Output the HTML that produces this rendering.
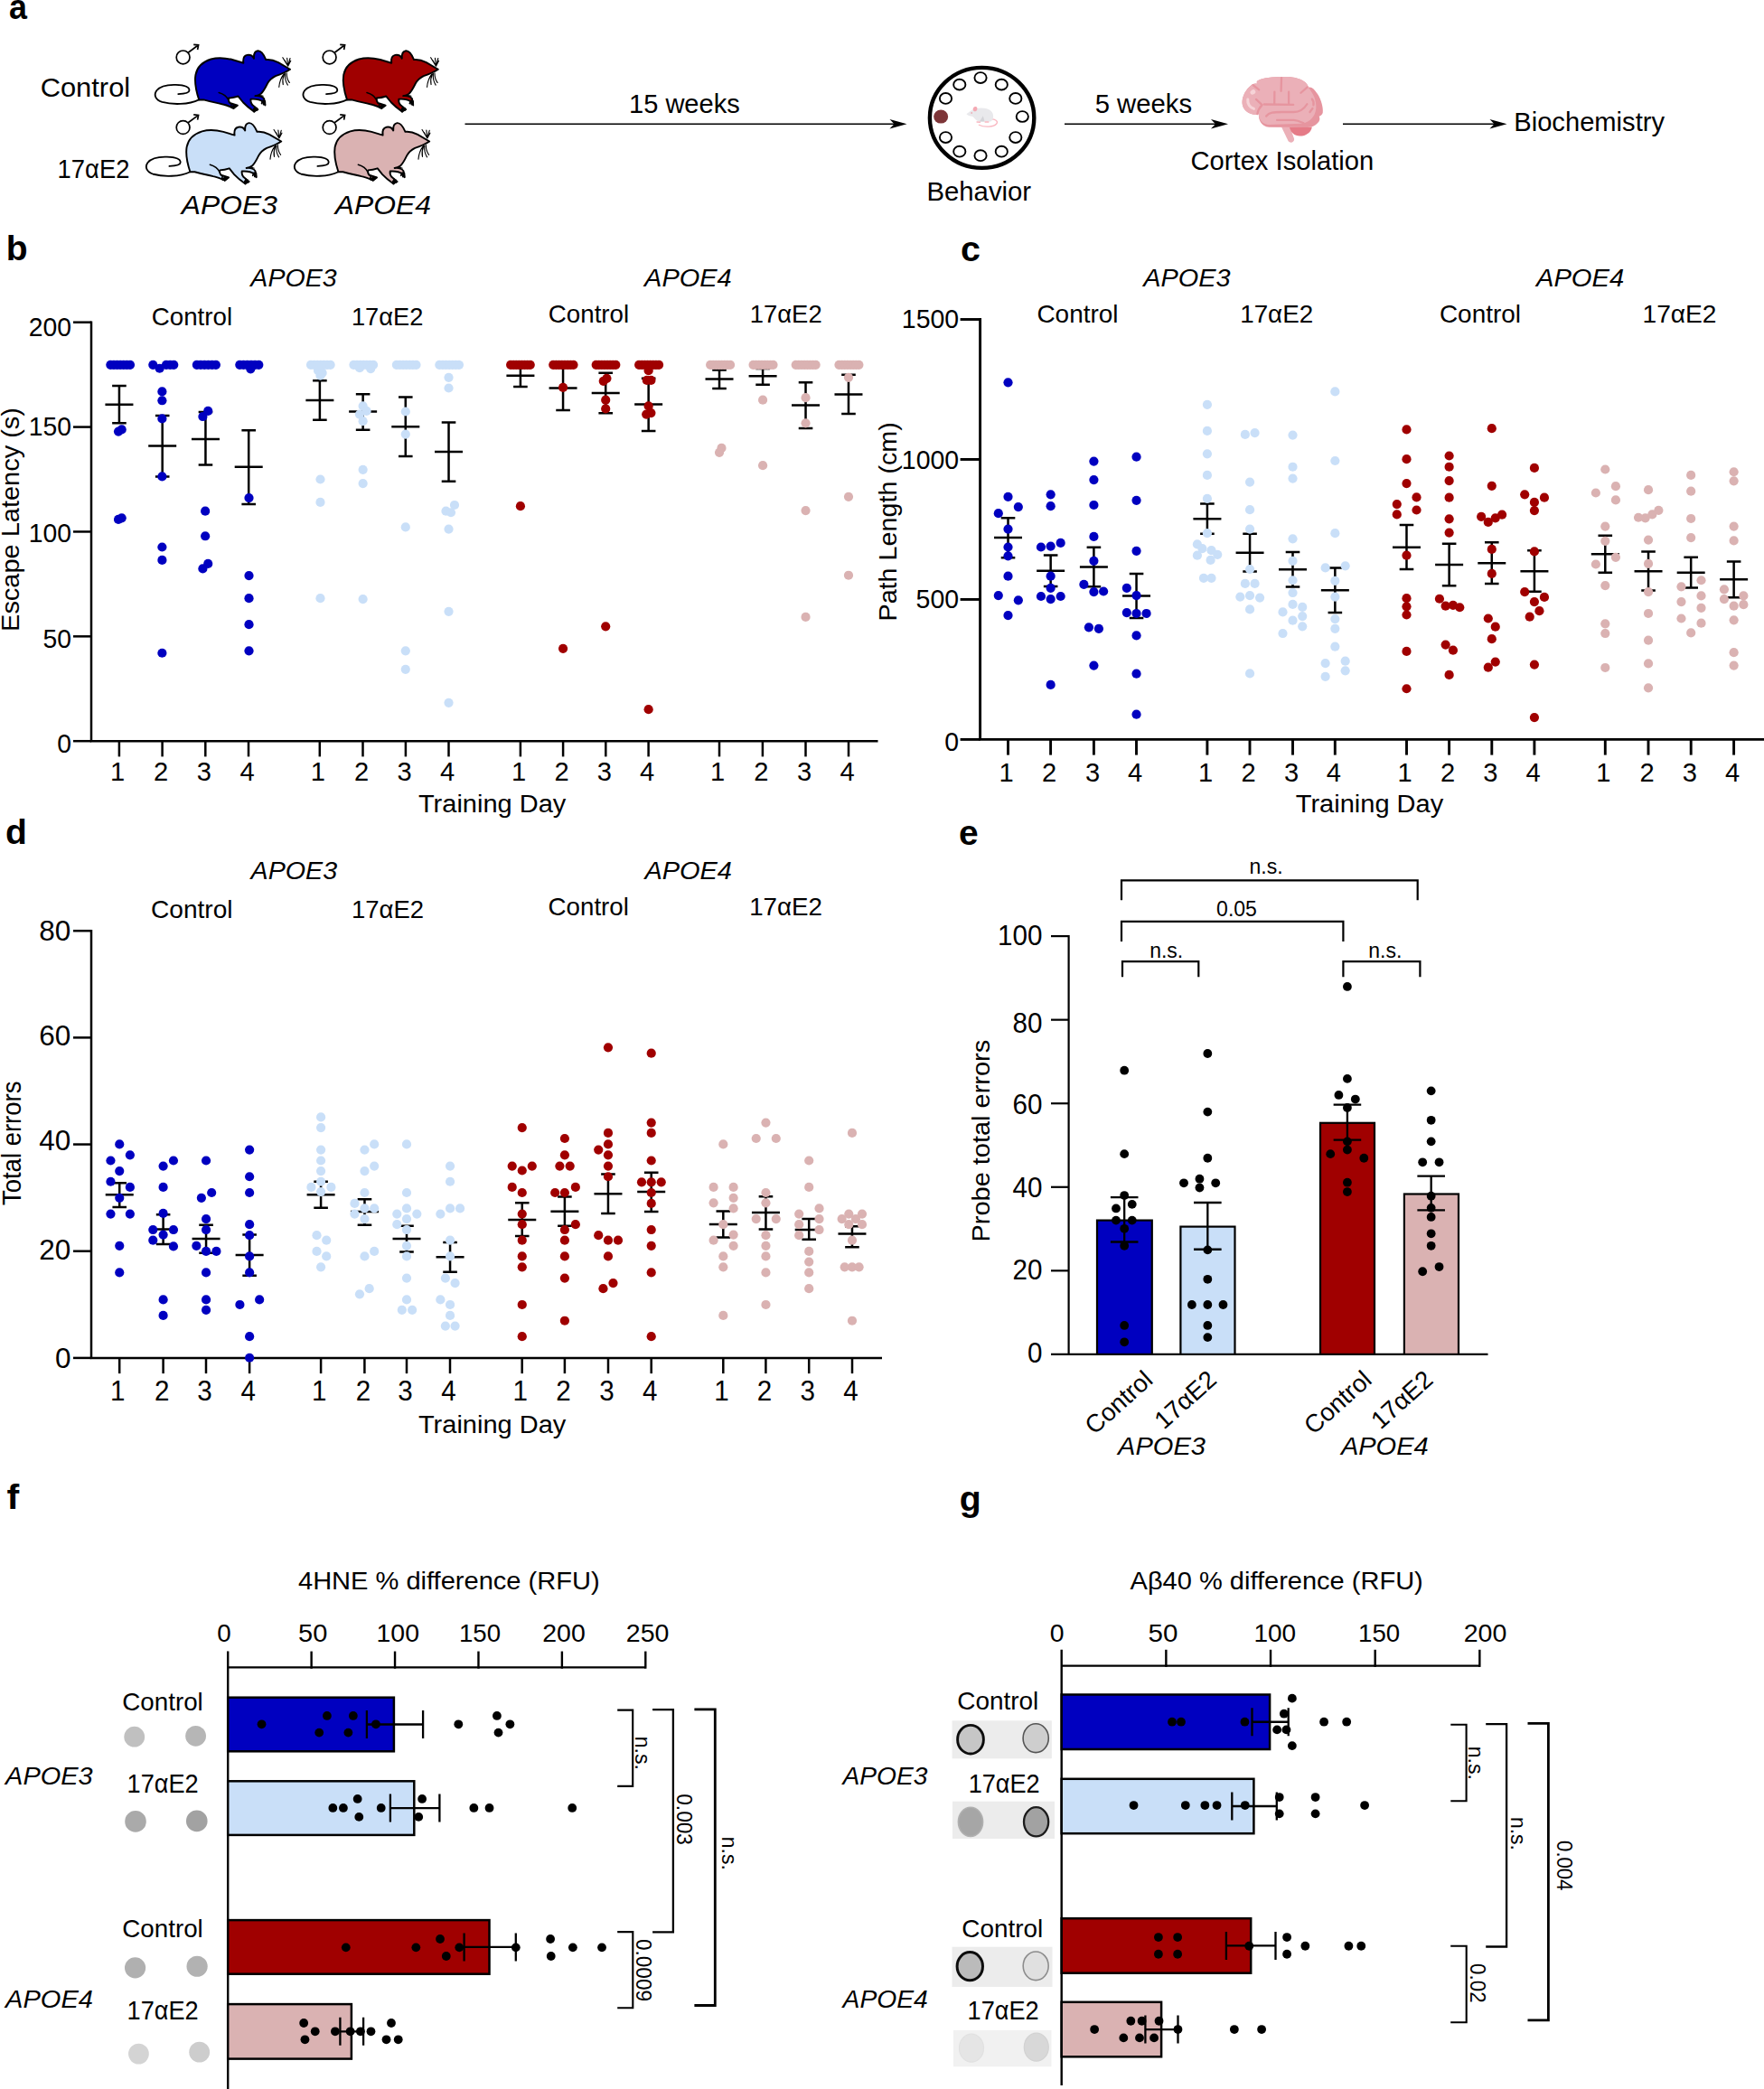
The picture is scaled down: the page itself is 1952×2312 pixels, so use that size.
<!DOCTYPE html>
<html lang="en"><head><meta charset="utf-8"><title>Figure</title>
<style>
html,body{margin:0;padding:0;background:#fff;}
svg{display:block;font-family:'Liberation Sans', Arial, sans-serif;}
</style></head><body>
<svg width="1952" height="2312" viewBox="0 0 1952 2312">
<rect width="1952" height="2312" fill="#fff"/>
<text x="10.02" y="20.8" font-size="39" font-weight="bold" textLength="19.94" lengthAdjust="spacingAndGlyphs">a</text>
<text x="44.66" y="107.1" font-size="29.5" textLength="99.51" lengthAdjust="spacingAndGlyphs">Control</text>
<text x="63.6" y="196.7" font-size="29.4" textLength="79.78" lengthAdjust="spacingAndGlyphs">17αE2</text>
<text x="200.83" y="236.9" font-size="29" font-style="italic" textLength="105.99" lengthAdjust="spacingAndGlyphs">APOE3</text>
<text x="370.83" y="236.9" font-size="29" font-style="italic" textLength="106.14" lengthAdjust="spacingAndGlyphs">APOE4</text>
<g transform="translate(160,40) scale(0.10204)" color="#0000c0">
<path d="M590,690 C480,745 300,745 190,715 C120,690 95,640 130,590 C170,540 260,525 340,528 C430,530 485,550 485,588 C485,615 420,626 365,628" fill="none" stroke="#000" stroke-width="18" stroke-linecap="round"/>
<path d="M590,690 C560,600 540,500 553,420 C570,330 640,275 720,250 C800,228 870,235 950,255 L1072,292 C1065,245 1080,212 1112,205 C1150,198 1172,215 1186,242 C1182,195 1195,165 1228,160 C1262,157 1290,195 1316,255 C1360,250 1405,262 1450,285 L1578,360 C1530,392 1470,415 1420,432 C1375,455 1350,480 1332,515 C1310,560 1290,600 1262,625 C1240,640 1222,645 1200,648 C1240,645 1280,655 1296,680 L1306,745 L1282,712 C1250,685 1200,680 1152,683 C1148,705 1155,730 1168,745 L1228,795 L1186,818 C1140,785 1100,752 1068,718 L1015,652 C985,662 945,670 912,672 C908,692 913,712 925,725 L1008,752 L965,782 C925,765 885,745 840,738 C780,725 700,705 640,690 Z" fill="currentColor" stroke="#000" stroke-width="19" stroke-linejoin="round"/>
<path d="M805,612 C850,625 890,650 908,690" fill="none" stroke="#000" stroke-width="15" stroke-linecap="round"/>
<path d="M1200,648 C1230,640 1262,640 1285,650" fill="none" stroke="#000" stroke-width="10" stroke-linecap="round"/>
<path d="M1282,700 L1270,730 M1296,700 L1290,742 M1306,705 L1308,750 M1196,770 L1180,800 M1215,780 L1190,822 M1228,795 L1215,805 M975,745 L950,770 M1000,752 L965,785 M940,740 L935,765" fill="none" stroke="#000" stroke-width="17" stroke-linecap="round"/>
<path d="M1555,325 L1498,232 M1555,325 L1520,262 M1555,325 L1545,238 M1555,325 L1578,240 M1555,325 L1585,268 M1510,410 C1480,450 1462,500 1458,552 M1515,410 C1498,450 1495,490 1502,525 M1525,405 C1520,450 1530,495 1552,530 M1540,400 C1540,440 1552,480 1572,505" fill="none" stroke="#000" stroke-width="11" stroke-linecap="round"/>
<ellipse cx="962" cy="765" rx="30" ry="17" transform="rotate(-25 962 765)" fill="#000"/><ellipse cx="1196" cy="796" rx="28" ry="16" transform="rotate(-32 1196 796)" fill="#000"/><ellipse cx="1293" cy="722" rx="15" ry="26" transform="rotate(-8 1293 722)" fill="#000"/>
</g>
<g transform="translate(323.8,40) scale(0.10204)" color="#a00000">
<path d="M590,690 C480,745 300,745 190,715 C120,690 95,640 130,590 C170,540 260,525 340,528 C430,530 485,550 485,588 C485,615 420,626 365,628" fill="none" stroke="#000" stroke-width="18" stroke-linecap="round"/>
<path d="M590,690 C560,600 540,500 553,420 C570,330 640,275 720,250 C800,228 870,235 950,255 L1072,292 C1065,245 1080,212 1112,205 C1150,198 1172,215 1186,242 C1182,195 1195,165 1228,160 C1262,157 1290,195 1316,255 C1360,250 1405,262 1450,285 L1578,360 C1530,392 1470,415 1420,432 C1375,455 1350,480 1332,515 C1310,560 1290,600 1262,625 C1240,640 1222,645 1200,648 C1240,645 1280,655 1296,680 L1306,745 L1282,712 C1250,685 1200,680 1152,683 C1148,705 1155,730 1168,745 L1228,795 L1186,818 C1140,785 1100,752 1068,718 L1015,652 C985,662 945,670 912,672 C908,692 913,712 925,725 L1008,752 L965,782 C925,765 885,745 840,738 C780,725 700,705 640,690 Z" fill="currentColor" stroke="#000" stroke-width="19" stroke-linejoin="round"/>
<path d="M805,612 C850,625 890,650 908,690" fill="none" stroke="#000" stroke-width="15" stroke-linecap="round"/>
<path d="M1200,648 C1230,640 1262,640 1285,650" fill="none" stroke="#000" stroke-width="10" stroke-linecap="round"/>
<path d="M1282,700 L1270,730 M1296,700 L1290,742 M1306,705 L1308,750 M1196,770 L1180,800 M1215,780 L1190,822 M1228,795 L1215,805 M975,745 L950,770 M1000,752 L965,785 M940,740 L935,765" fill="none" stroke="#000" stroke-width="17" stroke-linecap="round"/>
<path d="M1555,325 L1498,232 M1555,325 L1520,262 M1555,325 L1545,238 M1555,325 L1578,240 M1555,325 L1585,268 M1510,410 C1480,450 1462,500 1458,552 M1515,410 C1498,450 1495,490 1502,525 M1525,405 C1520,450 1530,495 1552,530 M1540,400 C1540,440 1552,480 1572,505" fill="none" stroke="#000" stroke-width="11" stroke-linecap="round"/>
<ellipse cx="962" cy="765" rx="30" ry="17" transform="rotate(-25 962 765)" fill="#000"/><ellipse cx="1196" cy="796" rx="28" ry="16" transform="rotate(-32 1196 796)" fill="#000"/><ellipse cx="1293" cy="722" rx="15" ry="26" transform="rotate(-8 1293 722)" fill="#000"/>
</g>
<g transform="translate(150.2,119.8) scale(0.10204)" color="#c9dff8">
<path d="M590,690 C480,745 300,745 190,715 C120,690 95,640 130,590 C170,540 260,525 340,528 C430,530 485,550 485,588 C485,615 420,626 365,628" fill="none" stroke="#000" stroke-width="18" stroke-linecap="round"/>
<path d="M590,690 C560,600 540,500 553,420 C570,330 640,275 720,250 C800,228 870,235 950,255 L1072,292 C1065,245 1080,212 1112,205 C1150,198 1172,215 1186,242 C1182,195 1195,165 1228,160 C1262,157 1290,195 1316,255 C1360,250 1405,262 1450,285 L1578,360 C1530,392 1470,415 1420,432 C1375,455 1350,480 1332,515 C1310,560 1290,600 1262,625 C1240,640 1222,645 1200,648 C1240,645 1280,655 1296,680 L1306,745 L1282,712 C1250,685 1200,680 1152,683 C1148,705 1155,730 1168,745 L1228,795 L1186,818 C1140,785 1100,752 1068,718 L1015,652 C985,662 945,670 912,672 C908,692 913,712 925,725 L1008,752 L965,782 C925,765 885,745 840,738 C780,725 700,705 640,690 Z" fill="currentColor" stroke="#000" stroke-width="19" stroke-linejoin="round"/>
<path d="M805,612 C850,625 890,650 908,690" fill="none" stroke="#000" stroke-width="15" stroke-linecap="round"/>
<path d="M1200,648 C1230,640 1262,640 1285,650" fill="none" stroke="#000" stroke-width="10" stroke-linecap="round"/>
<path d="M1282,700 L1270,730 M1296,700 L1290,742 M1306,705 L1308,750 M1196,770 L1180,800 M1215,780 L1190,822 M1228,795 L1215,805 M975,745 L950,770 M1000,752 L965,785 M940,740 L935,765" fill="none" stroke="#000" stroke-width="17" stroke-linecap="round"/>
<path d="M1555,325 L1498,232 M1555,325 L1520,262 M1555,325 L1545,238 M1555,325 L1578,240 M1555,325 L1585,268 M1510,410 C1480,450 1462,500 1458,552 M1515,410 C1498,450 1495,490 1502,525 M1525,405 C1520,450 1530,495 1552,530 M1540,400 C1540,440 1552,480 1572,505" fill="none" stroke="#000" stroke-width="11" stroke-linecap="round"/>
<ellipse cx="962" cy="765" rx="30" ry="17" transform="rotate(-25 962 765)" fill="#000"/><ellipse cx="1196" cy="796" rx="28" ry="16" transform="rotate(-32 1196 796)" fill="#000"/><ellipse cx="1293" cy="722" rx="15" ry="26" transform="rotate(-8 1293 722)" fill="#000"/>
</g>
<g transform="translate(314.2,119.8) scale(0.10204)" color="#dab2b2">
<path d="M590,690 C480,745 300,745 190,715 C120,690 95,640 130,590 C170,540 260,525 340,528 C430,530 485,550 485,588 C485,615 420,626 365,628" fill="none" stroke="#000" stroke-width="18" stroke-linecap="round"/>
<path d="M590,690 C560,600 540,500 553,420 C570,330 640,275 720,250 C800,228 870,235 950,255 L1072,292 C1065,245 1080,212 1112,205 C1150,198 1172,215 1186,242 C1182,195 1195,165 1228,160 C1262,157 1290,195 1316,255 C1360,250 1405,262 1450,285 L1578,360 C1530,392 1470,415 1420,432 C1375,455 1350,480 1332,515 C1310,560 1290,600 1262,625 C1240,640 1222,645 1200,648 C1240,645 1280,655 1296,680 L1306,745 L1282,712 C1250,685 1200,680 1152,683 C1148,705 1155,730 1168,745 L1228,795 L1186,818 C1140,785 1100,752 1068,718 L1015,652 C985,662 945,670 912,672 C908,692 913,712 925,725 L1008,752 L965,782 C925,765 885,745 840,738 C780,725 700,705 640,690 Z" fill="currentColor" stroke="#000" stroke-width="19" stroke-linejoin="round"/>
<path d="M805,612 C850,625 890,650 908,690" fill="none" stroke="#000" stroke-width="15" stroke-linecap="round"/>
<path d="M1200,648 C1230,640 1262,640 1285,650" fill="none" stroke="#000" stroke-width="10" stroke-linecap="round"/>
<path d="M1282,700 L1270,730 M1296,700 L1290,742 M1306,705 L1308,750 M1196,770 L1180,800 M1215,780 L1190,822 M1228,795 L1215,805 M975,745 L950,770 M1000,752 L965,785 M940,740 L935,765" fill="none" stroke="#000" stroke-width="17" stroke-linecap="round"/>
<path d="M1555,325 L1498,232 M1555,325 L1520,262 M1555,325 L1545,238 M1555,325 L1578,240 M1555,325 L1585,268 M1510,410 C1480,450 1462,500 1458,552 M1515,410 C1498,450 1495,490 1502,525 M1525,405 C1520,450 1530,495 1552,530 M1540,400 C1540,440 1552,480 1572,505" fill="none" stroke="#000" stroke-width="11" stroke-linecap="round"/>
<ellipse cx="962" cy="765" rx="30" ry="17" transform="rotate(-25 962 765)" fill="#000"/><ellipse cx="1196" cy="796" rx="28" ry="16" transform="rotate(-32 1196 796)" fill="#000"/><ellipse cx="1293" cy="722" rx="15" ry="26" transform="rotate(-8 1293 722)" fill="#000"/>
</g>
<g fill="none" stroke="#000" stroke-width="1.7" transform="translate(0,0)"><circle cx="202.6" cy="63.4" r="7.4"/><path d="M208.2,58.2 L219.6,49.8 M214.2,49.3 L219.6,49.8 L218.6,55"/></g>
<g fill="none" stroke="#000" stroke-width="1.7" transform="translate(162,0)"><circle cx="202.6" cy="63.4" r="7.4"/><path d="M208.2,58.2 L219.6,49.8 M214.2,49.3 L219.6,49.8 L218.6,55"/></g>
<g fill="none" stroke="#000" stroke-width="1.7" transform="translate(0,77.6)"><circle cx="202.6" cy="63.4" r="7.4"/><path d="M208.2,58.2 L219.6,49.8 M214.2,49.3 L219.6,49.8 L218.6,55"/></g>
<g fill="none" stroke="#000" stroke-width="1.7" transform="translate(162,77.6)"><circle cx="202.6" cy="63.4" r="7.4"/><path d="M208.2,58.2 L219.6,49.8 M214.2,49.3 L219.6,49.8 L218.6,55"/></g>
<line x1="514.5" y1="137.2" x2="995.5" y2="137.2" stroke="#000" stroke-width="1.6"/>
<path d="M1003.5,137.2 L984.5,132 L989.5,137.2 L984.5,142.4 Z" fill="#000"/>
<line x1="1178" y1="137.2" x2="1351" y2="137.2" stroke="#000" stroke-width="1.6"/>
<path d="M1359,137.2 L1340,132 L1345,137.2 L1340,142.4 Z" fill="#000"/>
<line x1="1486" y1="137.2" x2="1659.5" y2="137.2" stroke="#000" stroke-width="1.6"/>
<path d="M1667.5,137.2 L1648.5,132 L1653.5,137.2 L1648.5,142.4 Z" fill="#000"/>
<text x="696.02" y="124.6" font-size="29.2" textLength="122.68" lengthAdjust="spacingAndGlyphs">15 weeks</text>
<text x="1211.63" y="124.6" font-size="29.2" textLength="107.4" lengthAdjust="spacingAndGlyphs">5 weeks</text>
<text x="1675.27" y="145.2" font-size="29.2" textLength="166.74" lengthAdjust="spacingAndGlyphs">Biochemistry</text>
<text x="1317.54" y="187.7" font-size="29.2" textLength="202.64" lengthAdjust="spacingAndGlyphs">Cortex Isolation</text>
<text x="1025.46" y="221.8" font-size="29.2" textLength="115.64" lengthAdjust="spacingAndGlyphs">Behavior</text>
<ellipse cx="1086.6" cy="130.4" rx="57.7" ry="55.5" fill="#fff" stroke="#000" stroke-width="4.4"/>
<ellipse cx="1085.03" cy="86.05" rx="6.6" ry="5.9" fill="#fff" stroke="#000" stroke-width="1.9"/>
<ellipse cx="1108.28" cy="93.65" rx="6.6" ry="5.9" fill="#fff" stroke="#000" stroke-width="1.9"/>
<ellipse cx="1123.81" cy="108.96" rx="6.6" ry="5.9" fill="#fff" stroke="#000" stroke-width="1.9"/>
<ellipse cx="1131.29" cy="129.02" rx="6.6" ry="5.9" fill="#fff" stroke="#000" stroke-width="1.9"/>
<ellipse cx="1123.81" cy="152.04" rx="6.6" ry="5.9" fill="#fff" stroke="#000" stroke-width="1.9"/>
<ellipse cx="1108.28" cy="167.69" rx="6.6" ry="5.9" fill="#fff" stroke="#000" stroke-width="1.9"/>
<ellipse cx="1085.03" cy="172.22" rx="6.6" ry="5.9" fill="#fff" stroke="#000" stroke-width="1.9"/>
<ellipse cx="1061.79" cy="167.69" rx="6.6" ry="5.9" fill="#fff" stroke="#000" stroke-width="1.9"/>
<ellipse cx="1046.49" cy="152.04" rx="6.6" ry="5.9" fill="#fff" stroke="#000" stroke-width="1.9"/>
<ellipse cx="1041.16" cy="129.02" rx="8" ry="7.6" fill="#7d3538"/>
<ellipse cx="1046.49" cy="108.96" rx="6.6" ry="5.9" fill="#fff" stroke="#000" stroke-width="1.9"/>
<ellipse cx="1061.79" cy="93.65" rx="6.6" ry="5.9" fill="#fff" stroke="#000" stroke-width="1.9"/>
<g transform="translate(1000,50) scale(0.11338)">
<path d="M735,778 C790,805 880,800 908,765 C925,740 890,722 855,722" fill="none" stroke="#f9b7c0" stroke-width="11" stroke-linecap="round"/>
<path d="M612,672 C640,650 665,632 700,622 C760,605 830,615 860,650 C885,685 875,730 850,745 L735,748 C700,735 690,705 668,695 C645,690 625,685 612,672 Z" fill="#e9e9ec"/>
<path d="M740,745 L775,690 L790,745 Z" fill="#d4d4d8"/>
<ellipse cx="697" cy="623" rx="20" ry="24" fill="#f4a9b3" transform="rotate(20 697 623)"/>
<circle cx="663" cy="662" r="7" fill="#ef8a98"/>
<path d="M715,750 L745,752 M795,750 L828,750" stroke="#f9b7c0" stroke-width="12" stroke-linecap="round"/>
</g>
<g transform="translate(1350,70) scale(0.085034)">
<path d="M800,830 L910,830 L966,985 C968,1030 915,1048 888,1012 Z" fill="#ebb0b8"/>
<path d="M905,832 L1198,828 C1185,900 1120,947 1040,947 C968,947 920,900 905,832 Z" fill="#e57b87"/>
<path d="M480,235 C520,200 620,178 790,176 L830,178 C960,175 1080,205 1130,270 C1145,290 1150,305 1150,315 C1190,300 1230,340 1270,400 C1320,480 1345,580 1338,640 C1335,665 1310,685 1290,690 C1305,720 1300,750 1270,780 C1240,815 1190,835 1140,835 L640,832 C590,830 540,800 520,750 C505,715 503,690 505,662 C470,672 410,668 365,640 C310,605 285,550 290,490 C295,420 340,340 400,290 C425,270 450,262 480,268 Z" fill="#e6959f"/>
<path d="M480,235 C520,200 620,178 790,176 L830,178 C960,175 1080,205 1130,270 C1145,290 1150,305 1150,318 C1210,390 1260,480 1250,590 C1240,690 1170,760 1080,785 L640,800 C590,798 545,775 525,735 C508,705 503,690 505,662 C470,672 410,668 365,640 C310,605 285,550 290,490 C295,420 340,340 400,290 C425,270 450,262 480,268 Z" fill="#ebb0b8"/>
<g fill="none" stroke="#e6959f" stroke-width="27" stroke-linecap="round">
<path d="M800,190 L795,362 M710,372 L708,525 M895,372 L895,528 M575,535 L955,540 M470,470 L548,542 M432,285 L508,345 M1135,312 L1052,385 M602,688 C640,640 700,635 800,635 L960,635 C1050,635 1100,585 1133,532 M742,740 L960,740 C1020,745 1060,768 1088,780 M1197,465 C1216,490 1222,520 1216,545 M1205,588 L1170,635 M548,542 C512,580 492,620 486,660"/>
</g>
<path d="M362,472 C355,530 392,580 440,592" fill="none" stroke="#f6d3d7" stroke-width="36" stroke-linecap="round"/>
<ellipse cx="428" cy="376" rx="36" ry="30" fill="#f6d3d7" transform="rotate(-35 428 376)"/>
</g>
<text x="6.66" y="287.8" font-size="39" font-weight="bold" textLength="23.83" lengthAdjust="spacingAndGlyphs">b</text>
<text x="277.38" y="316.6" font-size="28.2" font-style="italic" textLength="95.2" lengthAdjust="spacingAndGlyphs">APOE3</text>
<text x="713.1" y="316.6" font-size="28.2" font-style="italic" textLength="96.46" lengthAdjust="spacingAndGlyphs">APOE4</text>
<text x="167.71" y="359.6" font-size="28" textLength="89.39" lengthAdjust="spacingAndGlyphs">Control</text>
<text x="388.96" y="359.6" font-size="28" textLength="79.37" lengthAdjust="spacingAndGlyphs">17αE2</text>
<text x="606.81" y="356.6" font-size="28" textLength="89.39" lengthAdjust="spacingAndGlyphs">Control</text>
<text x="829.85" y="356.6" font-size="28" textLength="79.78" lengthAdjust="spacingAndGlyphs">17αE2</text>
<g stroke="#000" stroke-width="2.5" fill="none" stroke-linecap="butt">
<path d="M101,355.45 V820.2 H971.5"/>
<path d="M81,820.2 H101"/>
<path d="M81,356.7 H101"/>
<path d="M81,472.58 H101"/>
<path d="M81,588.45 H101"/>
<path d="M81,704.33 H101"/>
<path d="M131.9,820.2 V837.4"/>
<path d="M179.6,820.2 V837.4"/>
<path d="M227.3,820.2 V837.4"/>
<path d="M275,820.2 V837.4"/>
<path d="M353.8,820.2 V837.4"/>
<path d="M401.5,820.2 V837.4"/>
<path d="M448.9,820.2 V837.4"/>
<path d="M496.5,820.2 V837.4"/>
<path d="M575.9,820.2 V837.4"/>
<path d="M623.1,820.2 V837.4"/>
<path d="M670.3,820.2 V837.4"/>
<path d="M717.6,820.2 V837.4"/>
<path d="M796,820.2 V837.4"/>
<path d="M843.9,820.2 V837.4"/>
<path d="M891.5,820.2 V837.4"/>
<path d="M939,820.2 V837.4"/>
</g>
<text x="31.74" y="371.7" font-size="30" textLength="47.25" lengthAdjust="spacingAndGlyphs">200</text>
<text x="31.74" y="482.4" font-size="30" textLength="47.25" lengthAdjust="spacingAndGlyphs">150</text>
<text x="31.74" y="600" font-size="30" textLength="47.25" lengthAdjust="spacingAndGlyphs">100</text>
<text x="47.46" y="716.9" font-size="30" textLength="31.5" lengthAdjust="spacingAndGlyphs">50</text>
<text x="63.32" y="833.1" font-size="30" textLength="15.75" lengthAdjust="spacingAndGlyphs">0</text>
<text x="121.96" y="864" font-size="30" textLength="16.18" lengthAdjust="spacingAndGlyphs">1</text>
<text x="170.02" y="864" font-size="30" textLength="16.18" lengthAdjust="spacingAndGlyphs">2</text>
<text x="217.8" y="864" font-size="30" textLength="16.18" lengthAdjust="spacingAndGlyphs">3</text>
<text x="265.5" y="864" font-size="30" textLength="16.18" lengthAdjust="spacingAndGlyphs">4</text>
<text x="343.86" y="864" font-size="30" textLength="16.18" lengthAdjust="spacingAndGlyphs">1</text>
<text x="391.92" y="864" font-size="30" textLength="16.18" lengthAdjust="spacingAndGlyphs">2</text>
<text x="439.4" y="864" font-size="30" textLength="16.18" lengthAdjust="spacingAndGlyphs">3</text>
<text x="487" y="864" font-size="30" textLength="16.18" lengthAdjust="spacingAndGlyphs">4</text>
<text x="565.96" y="864" font-size="30" textLength="16.18" lengthAdjust="spacingAndGlyphs">1</text>
<text x="613.52" y="864" font-size="30" textLength="16.18" lengthAdjust="spacingAndGlyphs">2</text>
<text x="660.8" y="864" font-size="30" textLength="16.18" lengthAdjust="spacingAndGlyphs">3</text>
<text x="708.1" y="864" font-size="30" textLength="16.18" lengthAdjust="spacingAndGlyphs">4</text>
<text x="786.06" y="864" font-size="30" textLength="16.18" lengthAdjust="spacingAndGlyphs">1</text>
<text x="834.32" y="864" font-size="30" textLength="16.18" lengthAdjust="spacingAndGlyphs">2</text>
<text x="882" y="864" font-size="30" textLength="16.18" lengthAdjust="spacingAndGlyphs">3</text>
<text x="929.5" y="864" font-size="30" textLength="16.18" lengthAdjust="spacingAndGlyphs">4</text>
<text x="21.3" y="698.92" font-size="27.8" textLength="247.89" lengthAdjust="spacingAndGlyphs" transform="rotate(-90 21.3 698.92)">Escape Latency (s)</text>
<text x="462.97" y="898.9" font-size="28.4" textLength="163.32" lengthAdjust="spacingAndGlyphs">Training Day</text>
<g stroke="#000" stroke-width="2.5" fill="none">
<path d="M131.94,427.04 V468.37 M116.44,447.86 H147.44 M124.14,427.04 H139.74 M124.14,468.37 H139.74"/>
<path d="M179.69,460.1 V527.45 M164.19,493.47 H195.19 M171.89,460.1 H187.49 M171.89,527.45 H187.49"/>
<path d="M227.45,456.12 V514.59 M211.95,486.12 H242.95 M219.65,456.12 H235.25 M219.65,514.59 H235.25"/>
<path d="M275.2,476.33 V558.06 M259.7,516.73 H290.7 M267.4,476.33 H283 M267.4,558.06 H283"/>
</g>
<g fill="#0000c0">
<circle cx="122.34" cy="403.78" r="5.1" fill="#0000c0"/>
<circle cx="125.95" cy="403.78" r="5.1" fill="#0000c0"/>
<circle cx="129.56" cy="403.78" r="5.1" fill="#0000c0"/>
<circle cx="133.16" cy="403.78" r="5.1" fill="#0000c0"/>
<circle cx="136.77" cy="403.78" r="5.1" fill="#0000c0"/>
<circle cx="140.38" cy="403.78" r="5.1" fill="#0000c0"/>
<circle cx="143.98" cy="403.78" r="5.1" fill="#0000c0"/>
<circle cx="131.02" cy="477.55" r="5.1" fill="#0000c0"/>
<circle cx="134.69" cy="475.41" r="5.1" fill="#0000c0"/>
<circle cx="131.02" cy="574.9" r="5.1" fill="#0000c0"/>
<circle cx="134.69" cy="573.37" r="5.1" fill="#0000c0"/>
<circle cx="169.29" cy="403.78" r="5.1" fill="#0000c0"/>
<circle cx="176.63" cy="407.76" r="5.1" fill="#0000c0"/>
<circle cx="183.98" cy="403.78" r="5.1" fill="#0000c0"/>
<circle cx="188.27" cy="403.78" r="5.1" fill="#0000c0"/>
<circle cx="192.24" cy="403.78" r="5.1" fill="#0000c0"/>
<circle cx="179.39" cy="433.47" r="5.1" fill="#0000c0"/>
<circle cx="179.39" cy="443.27" r="5.1" fill="#0000c0"/>
<circle cx="179.39" cy="463.47" r="5.1" fill="#0000c0"/>
<circle cx="179.39" cy="527.45" r="5.1" fill="#0000c0"/>
<circle cx="179.39" cy="605.51" r="5.1" fill="#0000c0"/>
<circle cx="179.39" cy="619.9" r="5.1" fill="#0000c0"/>
<circle cx="179.39" cy="722.75" r="5.1" fill="#0000c0"/>
<circle cx="217.85" cy="403.78" r="5.1" fill="#0000c0"/>
<circle cx="222.06" cy="403.78" r="5.1" fill="#0000c0"/>
<circle cx="226.26" cy="403.78" r="5.1" fill="#0000c0"/>
<circle cx="230.47" cy="403.78" r="5.1" fill="#0000c0"/>
<circle cx="234.67" cy="403.78" r="5.1" fill="#0000c0"/>
<circle cx="238.88" cy="403.78" r="5.1" fill="#0000c0"/>
<circle cx="230.2" cy="454.9" r="5.1" fill="#0000c0"/>
<circle cx="224.39" cy="461.02" r="5.1" fill="#0000c0"/>
<circle cx="227.14" cy="565.71" r="5.1" fill="#0000c0"/>
<circle cx="227.14" cy="593.27" r="5.1" fill="#0000c0"/>
<circle cx="230.2" cy="623.88" r="5.1" fill="#0000c0"/>
<circle cx="224.39" cy="629.39" r="5.1" fill="#0000c0"/>
<circle cx="265.3" cy="403.78" r="5.1" fill="#0000c0"/>
<circle cx="269.51" cy="403.78" r="5.1" fill="#0000c0"/>
<circle cx="273.71" cy="403.78" r="5.1" fill="#0000c0"/>
<circle cx="277.92" cy="403.78" r="5.1" fill="#0000c0"/>
<circle cx="282.12" cy="403.78" r="5.1" fill="#0000c0"/>
<circle cx="286.33" cy="403.78" r="5.1" fill="#0000c0"/>
<circle cx="277.35" cy="408.37" r="5.1" fill="#0000c0"/>
<circle cx="275.51" cy="551.02" r="5.1" fill="#0000c0"/>
<circle cx="275.51" cy="637.04" r="5.1" fill="#0000c0"/>
<circle cx="275.51" cy="662.14" r="5.1" fill="#0000c0"/>
<circle cx="275.51" cy="691.22" r="5.1" fill="#0000c0"/>
<circle cx="275.51" cy="720.31" r="5.1" fill="#0000c0"/>
</g>
<g stroke="#000" stroke-width="2.5" fill="none">
<path d="M353.88,421.22 V464.69 M338.38,442.96 H369.38 M346.08,421.22 H361.68 M346.08,464.69 H361.68"/>
<path d="M401.63,436.22 V475.71 M386.13,455.51 H417.13 M393.83,436.22 H409.43 M393.83,475.71 H409.43"/>
<path d="M448.78,439.59 V505.1 M433.28,472.35 H464.28 M440.98,439.59 H456.58 M440.98,505.1 H456.58"/>
<path d="M496.53,467.45 V532.65 M481.03,499.9 H512.03 M488.73,467.45 H504.33 M488.73,532.65 H504.33"/>
</g>
<g fill="#c9dff8">
<circle cx="343.98" cy="403.78" r="5.1" fill="#c9dff8"/>
<circle cx="347.58" cy="403.78" r="5.1" fill="#c9dff8"/>
<circle cx="351.19" cy="403.78" r="5.1" fill="#c9dff8"/>
<circle cx="354.8" cy="403.78" r="5.1" fill="#c9dff8"/>
<circle cx="358.4" cy="403.78" r="5.1" fill="#c9dff8"/>
<circle cx="362.01" cy="403.78" r="5.1" fill="#c9dff8"/>
<circle cx="365.61" cy="403.78" r="5.1" fill="#c9dff8"/>
<circle cx="352.04" cy="410.2" r="5.1" fill="#c9dff8"/>
<circle cx="356.63" cy="412.65" r="5.1" fill="#c9dff8"/>
<circle cx="354.49" cy="415.71" r="5.1" fill="#c9dff8"/>
<circle cx="354.49" cy="530.51" r="5.1" fill="#c9dff8"/>
<circle cx="354.49" cy="555.92" r="5.1" fill="#c9dff8"/>
<circle cx="354.49" cy="662.14" r="5.1" fill="#c9dff8"/>
<circle cx="391.43" cy="403.78" r="5.1" fill="#c9dff8"/>
<circle cx="395.03" cy="403.78" r="5.1" fill="#c9dff8"/>
<circle cx="398.64" cy="403.78" r="5.1" fill="#c9dff8"/>
<circle cx="402.24" cy="403.78" r="5.1" fill="#c9dff8"/>
<circle cx="405.85" cy="403.78" r="5.1" fill="#c9dff8"/>
<circle cx="409.46" cy="403.78" r="5.1" fill="#c9dff8"/>
<circle cx="413.06" cy="403.78" r="5.1" fill="#c9dff8"/>
<circle cx="397.96" cy="407.14" r="5.1" fill="#c9dff8"/>
<circle cx="410.2" cy="408.06" r="5.1" fill="#c9dff8"/>
<circle cx="401.63" cy="449.39" r="5.1" fill="#c9dff8"/>
<circle cx="405.61" cy="454.9" r="5.1" fill="#c9dff8"/>
<circle cx="397.96" cy="458.57" r="5.1" fill="#c9dff8"/>
<circle cx="401.63" cy="466.22" r="5.1" fill="#c9dff8"/>
<circle cx="401.63" cy="519.8" r="5.1" fill="#c9dff8"/>
<circle cx="401.63" cy="535.1" r="5.1" fill="#c9dff8"/>
<circle cx="401.63" cy="663.06" r="5.1" fill="#c9dff8"/>
<circle cx="438.88" cy="403.78" r="5.1" fill="#c9dff8"/>
<circle cx="442.48" cy="403.78" r="5.1" fill="#c9dff8"/>
<circle cx="446.09" cy="403.78" r="5.1" fill="#c9dff8"/>
<circle cx="449.69" cy="403.78" r="5.1" fill="#c9dff8"/>
<circle cx="453.3" cy="403.78" r="5.1" fill="#c9dff8"/>
<circle cx="456.91" cy="403.78" r="5.1" fill="#c9dff8"/>
<circle cx="460.51" cy="403.78" r="5.1" fill="#c9dff8"/>
<circle cx="448.78" cy="455.51" r="5.1" fill="#c9dff8"/>
<circle cx="448.78" cy="480.61" r="5.1" fill="#c9dff8"/>
<circle cx="448.78" cy="583.47" r="5.1" fill="#c9dff8"/>
<circle cx="448.78" cy="720.31" r="5.1" fill="#c9dff8"/>
<circle cx="448.78" cy="740.82" r="5.1" fill="#c9dff8"/>
<circle cx="486.32" cy="403.78" r="5.1" fill="#c9dff8"/>
<circle cx="489.93" cy="403.78" r="5.1" fill="#c9dff8"/>
<circle cx="493.54" cy="403.78" r="5.1" fill="#c9dff8"/>
<circle cx="497.14" cy="403.78" r="5.1" fill="#c9dff8"/>
<circle cx="500.75" cy="403.78" r="5.1" fill="#c9dff8"/>
<circle cx="504.35" cy="403.78" r="5.1" fill="#c9dff8"/>
<circle cx="507.96" cy="403.78" r="5.1" fill="#c9dff8"/>
<circle cx="496.53" cy="417.86" r="5.1" fill="#c9dff8"/>
<circle cx="496.53" cy="429.49" r="5.1" fill="#c9dff8"/>
<circle cx="502.96" cy="558.98" r="5.1" fill="#c9dff8"/>
<circle cx="493.47" cy="565.71" r="5.1" fill="#c9dff8"/>
<circle cx="498.98" cy="567.24" r="5.1" fill="#c9dff8"/>
<circle cx="496.53" cy="585.61" r="5.1" fill="#c9dff8"/>
<circle cx="496.53" cy="676.84" r="5.1" fill="#c9dff8"/>
<circle cx="496.53" cy="777.86" r="5.1" fill="#c9dff8"/>
</g>
<g stroke="#000" stroke-width="2.5" fill="none">
<path d="M575.92,405 V427.96 M560.42,415.71 H591.42 M568.12,405 H583.72 M568.12,427.96 H583.72"/>
<path d="M623.06,406.53 V453.98 M607.56,429.49 H638.56 M615.26,406.53 H630.86 M615.26,453.98 H630.86"/>
<path d="M670.2,412.65 V457.35 M654.7,435 H685.7 M662.4,412.65 H678 M662.4,457.35 H678"/>
<path d="M717.65,418.78 V476.94 M702.15,447.55 H733.15 M709.85,418.78 H725.45 M709.85,476.94 H725.45"/>
</g>
<g fill="#a00000">
<circle cx="565.1" cy="403.78" r="5.1" fill="#a00000"/>
<circle cx="568.19" cy="403.78" r="5.1" fill="#a00000"/>
<circle cx="571.28" cy="403.78" r="5.1" fill="#a00000"/>
<circle cx="574.37" cy="403.78" r="5.1" fill="#a00000"/>
<circle cx="577.46" cy="403.78" r="5.1" fill="#a00000"/>
<circle cx="580.55" cy="403.78" r="5.1" fill="#a00000"/>
<circle cx="583.65" cy="403.78" r="5.1" fill="#a00000"/>
<circle cx="586.74" cy="403.78" r="5.1" fill="#a00000"/>
<circle cx="575.92" cy="560.2" r="5.1" fill="#a00000"/>
<circle cx="612.24" cy="403.78" r="5.1" fill="#a00000"/>
<circle cx="615.42" cy="403.78" r="5.1" fill="#a00000"/>
<circle cx="618.6" cy="403.78" r="5.1" fill="#a00000"/>
<circle cx="621.78" cy="403.78" r="5.1" fill="#a00000"/>
<circle cx="624.96" cy="403.78" r="5.1" fill="#a00000"/>
<circle cx="628.13" cy="403.78" r="5.1" fill="#a00000"/>
<circle cx="631.31" cy="403.78" r="5.1" fill="#a00000"/>
<circle cx="634.49" cy="403.78" r="5.1" fill="#a00000"/>
<circle cx="623.06" cy="428.88" r="5.1" fill="#a00000"/>
<circle cx="623.06" cy="717.86" r="5.1" fill="#a00000"/>
<circle cx="659.69" cy="403.78" r="5.1" fill="#a00000"/>
<circle cx="662.78" cy="403.78" r="5.1" fill="#a00000"/>
<circle cx="665.87" cy="403.78" r="5.1" fill="#a00000"/>
<circle cx="668.96" cy="403.78" r="5.1" fill="#a00000"/>
<circle cx="672.06" cy="403.78" r="5.1" fill="#a00000"/>
<circle cx="675.15" cy="403.78" r="5.1" fill="#a00000"/>
<circle cx="678.24" cy="403.78" r="5.1" fill="#a00000"/>
<circle cx="681.33" cy="403.78" r="5.1" fill="#a00000"/>
<circle cx="671.43" cy="418.78" r="5.1" fill="#a00000"/>
<circle cx="667.75" cy="421.84" r="5.1" fill="#a00000"/>
<circle cx="670.2" cy="442.65" r="5.1" fill="#a00000"/>
<circle cx="670.2" cy="452.45" r="5.1" fill="#a00000"/>
<circle cx="670.2" cy="693.37" r="5.1" fill="#a00000"/>
<circle cx="707.14" cy="403.78" r="5.1" fill="#a00000"/>
<circle cx="710.28" cy="403.78" r="5.1" fill="#a00000"/>
<circle cx="713.41" cy="403.78" r="5.1" fill="#a00000"/>
<circle cx="716.54" cy="403.78" r="5.1" fill="#a00000"/>
<circle cx="719.68" cy="403.78" r="5.1" fill="#a00000"/>
<circle cx="722.81" cy="403.78" r="5.1" fill="#a00000"/>
<circle cx="725.95" cy="403.78" r="5.1" fill="#a00000"/>
<circle cx="729.08" cy="403.78" r="5.1" fill="#a00000"/>
<circle cx="717.65" cy="410.2" r="5.1" fill="#a00000"/>
<circle cx="715.82" cy="420.92" r="5.1" fill="#a00000"/>
<circle cx="720.41" cy="420.92" r="5.1" fill="#a00000"/>
<circle cx="717.65" cy="449.39" r="5.1" fill="#a00000"/>
<circle cx="715.2" cy="458.57" r="5.1" fill="#a00000"/>
<circle cx="720.41" cy="457.04" r="5.1" fill="#a00000"/>
<circle cx="717.65" cy="785.2" r="5.1" fill="#a00000"/>
</g>
<g stroke="#000" stroke-width="2.5" fill="none">
<path d="M796.02,409.59 V430.1 M780.52,419.39 H811.52 M788.22,409.59 H803.82 M788.22,430.1 H803.82"/>
<path d="M844.08,408.06 V425.82 M828.58,416.33 H859.58 M836.28,408.06 H851.88 M836.28,425.82 H851.88"/>
<path d="M891.53,423.37 V473.88 M876.03,448.47 H907.03 M883.73,423.37 H899.33 M883.73,473.88 H899.33"/>
<path d="M938.98,414.8 V457.96 M923.48,436.53 H954.48 M931.18,414.8 H946.78 M931.18,457.96 H946.78"/>
</g>
<g fill="#dab2b2">
<circle cx="786.12" cy="403.78" r="5.1" fill="#dab2b2"/>
<circle cx="789.25" cy="403.78" r="5.1" fill="#dab2b2"/>
<circle cx="792.39" cy="403.78" r="5.1" fill="#dab2b2"/>
<circle cx="795.52" cy="403.78" r="5.1" fill="#dab2b2"/>
<circle cx="798.66" cy="403.78" r="5.1" fill="#dab2b2"/>
<circle cx="801.79" cy="403.78" r="5.1" fill="#dab2b2"/>
<circle cx="804.93" cy="403.78" r="5.1" fill="#dab2b2"/>
<circle cx="808.06" cy="403.78" r="5.1" fill="#dab2b2"/>
<circle cx="798.47" cy="495.92" r="5.1" fill="#dab2b2"/>
<circle cx="796.02" cy="500.82" r="5.1" fill="#dab2b2"/>
<circle cx="833.57" cy="403.78" r="5.1" fill="#dab2b2"/>
<circle cx="836.7" cy="403.78" r="5.1" fill="#dab2b2"/>
<circle cx="839.84" cy="403.78" r="5.1" fill="#dab2b2"/>
<circle cx="842.97" cy="403.78" r="5.1" fill="#dab2b2"/>
<circle cx="846.11" cy="403.78" r="5.1" fill="#dab2b2"/>
<circle cx="849.24" cy="403.78" r="5.1" fill="#dab2b2"/>
<circle cx="852.38" cy="403.78" r="5.1" fill="#dab2b2"/>
<circle cx="855.51" cy="403.78" r="5.1" fill="#dab2b2"/>
<circle cx="844.08" cy="442.65" r="5.1" fill="#dab2b2"/>
<circle cx="844.08" cy="515.2" r="5.1" fill="#dab2b2"/>
<circle cx="880.71" cy="403.78" r="5.1" fill="#dab2b2"/>
<circle cx="883.85" cy="403.78" r="5.1" fill="#dab2b2"/>
<circle cx="886.98" cy="403.78" r="5.1" fill="#dab2b2"/>
<circle cx="890.12" cy="403.78" r="5.1" fill="#dab2b2"/>
<circle cx="893.25" cy="403.78" r="5.1" fill="#dab2b2"/>
<circle cx="896.39" cy="403.78" r="5.1" fill="#dab2b2"/>
<circle cx="899.52" cy="403.78" r="5.1" fill="#dab2b2"/>
<circle cx="902.65" cy="403.78" r="5.1" fill="#dab2b2"/>
<circle cx="891.53" cy="440.2" r="5.1" fill="#dab2b2"/>
<circle cx="891.53" cy="468.37" r="5.1" fill="#dab2b2"/>
<circle cx="891.53" cy="565.1" r="5.1" fill="#dab2b2"/>
<circle cx="891.53" cy="682.96" r="5.1" fill="#dab2b2"/>
<circle cx="928.47" cy="403.78" r="5.1" fill="#dab2b2"/>
<circle cx="931.6" cy="403.78" r="5.1" fill="#dab2b2"/>
<circle cx="934.74" cy="403.78" r="5.1" fill="#dab2b2"/>
<circle cx="937.87" cy="403.78" r="5.1" fill="#dab2b2"/>
<circle cx="941.01" cy="403.78" r="5.1" fill="#dab2b2"/>
<circle cx="944.14" cy="403.78" r="5.1" fill="#dab2b2"/>
<circle cx="947.28" cy="403.78" r="5.1" fill="#dab2b2"/>
<circle cx="950.41" cy="403.78" r="5.1" fill="#dab2b2"/>
<circle cx="938.98" cy="417.86" r="5.1" fill="#dab2b2"/>
<circle cx="938.98" cy="549.8" r="5.1" fill="#dab2b2"/>
<circle cx="938.98" cy="636.73" r="5.1" fill="#dab2b2"/>
</g>
<text x="1063.02" y="288.6" font-size="39" font-weight="bold" textLength="21.9" lengthAdjust="spacingAndGlyphs">c</text>
<text x="1265.3" y="316.6" font-size="28.2" font-style="italic" textLength="96.19" lengthAdjust="spacingAndGlyphs">APOE3</text>
<text x="1700.01" y="316.6" font-size="28.2" font-style="italic" textLength="97.15" lengthAdjust="spacingAndGlyphs">APOE4</text>
<text x="1147.4" y="356.6" font-size="28" textLength="90.12" lengthAdjust="spacingAndGlyphs">Control</text>
<text x="1372.22" y="356.6" font-size="28" textLength="80.93" lengthAdjust="spacingAndGlyphs">17αE2</text>
<text x="1592.9" y="356.6" font-size="28" textLength="90.12" lengthAdjust="spacingAndGlyphs">Control</text>
<text x="1817.49" y="356.6" font-size="28" textLength="81.98" lengthAdjust="spacingAndGlyphs">17αE2</text>
<g stroke="#000" stroke-width="2.9" fill="none" stroke-linecap="butt">
<path d="M1084.6,352.05 V818.4 H1953"/>
<path d="M1062.6,818.4 H1084.6"/>
<path d="M1062.6,353.5 H1084.6"/>
<path d="M1062.6,508.47 H1084.6"/>
<path d="M1062.6,663.43 H1084.6"/>
<path d="M1115.5,818.4 V835.6"/>
<path d="M1162.6,818.4 V835.6"/>
<path d="M1210.4,818.4 V835.6"/>
<path d="M1257.5,818.4 V835.6"/>
<path d="M1335.9,818.4 V835.6"/>
<path d="M1383,818.4 V835.6"/>
<path d="M1430.5,818.4 V835.6"/>
<path d="M1477.3,818.4 V835.6"/>
<path d="M1556.5,818.4 V835.6"/>
<path d="M1603.6,818.4 V835.6"/>
<path d="M1650.8,818.4 V835.6"/>
<path d="M1697.9,818.4 V835.6"/>
<path d="M1776.3,818.4 V835.6"/>
<path d="M1824,818.4 V835.6"/>
<path d="M1871.2,818.4 V835.6"/>
<path d="M1918.6,818.4 V835.6"/>
</g>
<text x="997.82" y="362.8" font-size="29.8" textLength="63.31" lengthAdjust="spacingAndGlyphs">1500</text>
<text x="997.82" y="518.7" font-size="29.8" textLength="63.31" lengthAdjust="spacingAndGlyphs">1000</text>
<text x="1013.61" y="673.4" font-size="29.8" textLength="47.48" lengthAdjust="spacingAndGlyphs">500</text>
<text x="1045.34" y="831.1" font-size="29.8" textLength="15.83" lengthAdjust="spacingAndGlyphs">0</text>
<text x="1105.56" y="864.6" font-size="30" textLength="16.18" lengthAdjust="spacingAndGlyphs">1</text>
<text x="1153.02" y="864.6" font-size="30" textLength="16.18" lengthAdjust="spacingAndGlyphs">2</text>
<text x="1200.9" y="864.6" font-size="30" textLength="16.18" lengthAdjust="spacingAndGlyphs">3</text>
<text x="1248" y="864.6" font-size="30" textLength="16.18" lengthAdjust="spacingAndGlyphs">4</text>
<text x="1325.96" y="864.6" font-size="30" textLength="16.18" lengthAdjust="spacingAndGlyphs">1</text>
<text x="1373.42" y="864.6" font-size="30" textLength="16.18" lengthAdjust="spacingAndGlyphs">2</text>
<text x="1421" y="864.6" font-size="30" textLength="16.18" lengthAdjust="spacingAndGlyphs">3</text>
<text x="1467.8" y="864.6" font-size="30" textLength="16.18" lengthAdjust="spacingAndGlyphs">4</text>
<text x="1546.56" y="864.6" font-size="30" textLength="16.18" lengthAdjust="spacingAndGlyphs">1</text>
<text x="1594.02" y="864.6" font-size="30" textLength="16.18" lengthAdjust="spacingAndGlyphs">2</text>
<text x="1641.3" y="864.6" font-size="30" textLength="16.18" lengthAdjust="spacingAndGlyphs">3</text>
<text x="1688.4" y="864.6" font-size="30" textLength="16.18" lengthAdjust="spacingAndGlyphs">4</text>
<text x="1766.36" y="864.6" font-size="30" textLength="16.18" lengthAdjust="spacingAndGlyphs">1</text>
<text x="1814.42" y="864.6" font-size="30" textLength="16.18" lengthAdjust="spacingAndGlyphs">2</text>
<text x="1861.7" y="864.6" font-size="30" textLength="16.18" lengthAdjust="spacingAndGlyphs">3</text>
<text x="1909.1" y="864.6" font-size="30" textLength="16.18" lengthAdjust="spacingAndGlyphs">4</text>
<text x="991.7" y="687.5" font-size="28" textLength="220.33" lengthAdjust="spacingAndGlyphs" transform="rotate(-90 991.7 687.5)">Path Length (cm)</text>
<text x="1433.77" y="898.9" font-size="28.4" textLength="163.42" lengthAdjust="spacingAndGlyphs">Training Day</text>
<g stroke="#000" stroke-width="2.5" fill="none">
<path d="M1115.51,573.37 V617.14 M1100.01,595.1 H1131.01 M1107.71,573.37 H1123.31 M1107.71,617.14 H1123.31"/>
<path d="M1162.65,614.39 V648.98 M1147.15,631.84 H1178.15 M1154.85,614.39 H1170.45 M1154.85,648.98 H1170.45"/>
<path d="M1210.41,605.82 V649.29 M1194.91,627.55 H1225.91 M1202.61,605.82 H1218.21 M1202.61,649.29 H1218.21"/>
<path d="M1257.55,634.9 V683.88 M1242.05,659.39 H1273.05 M1249.75,634.9 H1265.35 M1249.75,683.88 H1265.35"/>
</g>
<g fill="#0000c0">
<circle cx="1115.51" cy="423.37" r="5.1" fill="#0000c0"/>
<circle cx="1115.51" cy="549.8" r="5.1" fill="#0000c0"/>
<circle cx="1126.84" cy="561.12" r="5.1" fill="#0000c0"/>
<circle cx="1104.8" cy="568.16" r="5.1" fill="#0000c0"/>
<circle cx="1115.51" cy="585.61" r="5.1" fill="#0000c0"/>
<circle cx="1115.51" cy="605.51" r="5.1" fill="#0000c0"/>
<circle cx="1115.51" cy="615.31" r="5.1" fill="#0000c0"/>
<circle cx="1115.51" cy="637.65" r="5.1" fill="#0000c0"/>
<circle cx="1104.8" cy="659.08" r="5.1" fill="#0000c0"/>
<circle cx="1126.84" cy="664.29" r="5.1" fill="#0000c0"/>
<circle cx="1115.51" cy="681.12" r="5.1" fill="#0000c0"/>
<circle cx="1162.65" cy="547.35" r="5.1" fill="#0000c0"/>
<circle cx="1162.65" cy="560.2" r="5.1" fill="#0000c0"/>
<circle cx="1173.67" cy="600.92" r="5.1" fill="#0000c0"/>
<circle cx="1151.94" cy="605.51" r="5.1" fill="#0000c0"/>
<circle cx="1162.65" cy="604.59" r="5.1" fill="#0000c0"/>
<circle cx="1162.65" cy="637.65" r="5.1" fill="#0000c0"/>
<circle cx="1162.65" cy="650.82" r="5.1" fill="#0000c0"/>
<circle cx="1151.94" cy="660" r="5.1" fill="#0000c0"/>
<circle cx="1173.67" cy="660" r="5.1" fill="#0000c0"/>
<circle cx="1162.65" cy="663.06" r="5.1" fill="#0000c0"/>
<circle cx="1162.65" cy="757.96" r="5.1" fill="#0000c0"/>
<circle cx="1210.41" cy="510.61" r="5.1" fill="#0000c0"/>
<circle cx="1210.41" cy="531.12" r="5.1" fill="#0000c0"/>
<circle cx="1210.41" cy="558.98" r="5.1" fill="#0000c0"/>
<circle cx="1210.41" cy="593.88" r="5.1" fill="#0000c0"/>
<circle cx="1210.41" cy="620.82" r="5.1" fill="#0000c0"/>
<circle cx="1199.39" cy="646.84" r="5.1" fill="#0000c0"/>
<circle cx="1210.41" cy="655.1" r="5.1" fill="#0000c0"/>
<circle cx="1221.12" cy="654.49" r="5.1" fill="#0000c0"/>
<circle cx="1204.9" cy="694.29" r="5.1" fill="#0000c0"/>
<circle cx="1215.92" cy="695.82" r="5.1" fill="#0000c0"/>
<circle cx="1210.41" cy="736.53" r="5.1" fill="#0000c0"/>
<circle cx="1257.55" cy="505.71" r="5.1" fill="#0000c0"/>
<circle cx="1257.55" cy="553.78" r="5.1" fill="#0000c0"/>
<circle cx="1257.55" cy="609.8" r="5.1" fill="#0000c0"/>
<circle cx="1246.84" cy="650.82" r="5.1" fill="#0000c0"/>
<circle cx="1257.55" cy="659.08" r="5.1" fill="#0000c0"/>
<circle cx="1246.84" cy="678.06" r="5.1" fill="#0000c0"/>
<circle cx="1257.55" cy="678.98" r="5.1" fill="#0000c0"/>
<circle cx="1268.57" cy="678.98" r="5.1" fill="#0000c0"/>
<circle cx="1257.55" cy="703.47" r="5.1" fill="#0000c0"/>
<circle cx="1257.55" cy="745.71" r="5.1" fill="#0000c0"/>
<circle cx="1257.55" cy="790.71" r="5.1" fill="#0000c0"/>
</g>
<g stroke="#000" stroke-width="2.5" fill="none">
<path d="M1335.92,557.45 V590.82 M1320.42,574.29 H1351.42 M1328.12,557.45 H1343.72 M1328.12,590.82 H1343.72"/>
<path d="M1383.06,590.82 V632.45 M1367.56,611.63 H1398.56 M1375.26,590.82 H1390.86 M1375.26,632.45 H1390.86"/>
<path d="M1430.51,611.02 V649.59 M1415.01,630.31 H1446.01 M1422.71,611.02 H1438.31 M1422.71,649.59 H1438.31"/>
<path d="M1477.35,628.47 V678.06 M1461.85,653.26 H1492.85 M1469.55,628.47 H1485.15 M1469.55,678.06 H1485.15"/>
</g>
<g fill="#c9dff8">
<circle cx="1335.92" cy="447.86" r="5.1" fill="#c9dff8"/>
<circle cx="1335.92" cy="476.94" r="5.1" fill="#c9dff8"/>
<circle cx="1335.92" cy="502.35" r="5.1" fill="#c9dff8"/>
<circle cx="1335.92" cy="525.92" r="5.1" fill="#c9dff8"/>
<circle cx="1335.92" cy="551.94" r="5.1" fill="#c9dff8"/>
<circle cx="1335.92" cy="590.2" r="5.1" fill="#c9dff8"/>
<circle cx="1324.9" cy="602.45" r="5.1" fill="#c9dff8"/>
<circle cx="1330.41" cy="607.04" r="5.1" fill="#c9dff8"/>
<circle cx="1340.51" cy="609.18" r="5.1" fill="#c9dff8"/>
<circle cx="1347.24" cy="613.78" r="5.1" fill="#c9dff8"/>
<circle cx="1324.9" cy="614.69" r="5.1" fill="#c9dff8"/>
<circle cx="1339.59" cy="619.9" r="5.1" fill="#c9dff8"/>
<circle cx="1331.94" cy="639.8" r="5.1" fill="#c9dff8"/>
<circle cx="1340.51" cy="639.8" r="5.1" fill="#c9dff8"/>
<circle cx="1377.86" cy="480.92" r="5.1" fill="#c9dff8"/>
<circle cx="1388.57" cy="479.08" r="5.1" fill="#c9dff8"/>
<circle cx="1383.06" cy="533.57" r="5.1" fill="#c9dff8"/>
<circle cx="1383.06" cy="564.18" r="5.1" fill="#c9dff8"/>
<circle cx="1383.06" cy="585.61" r="5.1" fill="#c9dff8"/>
<circle cx="1383.06" cy="630" r="5.1" fill="#c9dff8"/>
<circle cx="1377.86" cy="645.92" r="5.1" fill="#c9dff8"/>
<circle cx="1388.57" cy="645.92" r="5.1" fill="#c9dff8"/>
<circle cx="1372.35" cy="660.61" r="5.1" fill="#c9dff8"/>
<circle cx="1383.06" cy="659.08" r="5.1" fill="#c9dff8"/>
<circle cx="1394.08" cy="661.53" r="5.1" fill="#c9dff8"/>
<circle cx="1383.06" cy="674.39" r="5.1" fill="#c9dff8"/>
<circle cx="1383.06" cy="745.41" r="5.1" fill="#c9dff8"/>
<circle cx="1430.51" cy="481.53" r="5.1" fill="#c9dff8"/>
<circle cx="1430.51" cy="516.73" r="5.1" fill="#c9dff8"/>
<circle cx="1430.51" cy="529.59" r="5.1" fill="#c9dff8"/>
<circle cx="1430.51" cy="596.33" r="5.1" fill="#c9dff8"/>
<circle cx="1430.51" cy="620.82" r="5.1" fill="#c9dff8"/>
<circle cx="1430.51" cy="642.24" r="5.1" fill="#c9dff8"/>
<circle cx="1430.51" cy="656.02" r="5.1" fill="#c9dff8"/>
<circle cx="1430.51" cy="668.88" r="5.1" fill="#c9dff8"/>
<circle cx="1441.22" cy="671.94" r="5.1" fill="#c9dff8"/>
<circle cx="1419.49" cy="677.45" r="5.1" fill="#c9dff8"/>
<circle cx="1441.22" cy="682.04" r="5.1" fill="#c9dff8"/>
<circle cx="1430.51" cy="686.63" r="5.1" fill="#c9dff8"/>
<circle cx="1441.22" cy="693.37" r="5.1" fill="#c9dff8"/>
<circle cx="1419.49" cy="701.02" r="5.1" fill="#c9dff8"/>
<circle cx="1477.35" cy="433.47" r="5.1" fill="#c9dff8"/>
<circle cx="1477.35" cy="510" r="5.1" fill="#c9dff8"/>
<circle cx="1477.35" cy="590.2" r="5.1" fill="#c9dff8"/>
<circle cx="1466.63" cy="628.47" r="5.1" fill="#c9dff8"/>
<circle cx="1488.67" cy="626.33" r="5.1" fill="#c9dff8"/>
<circle cx="1477.35" cy="642.86" r="5.1" fill="#c9dff8"/>
<circle cx="1477.35" cy="660.61" r="5.1" fill="#c9dff8"/>
<circle cx="1477.35" cy="685.1" r="5.1" fill="#c9dff8"/>
<circle cx="1477.35" cy="695.82" r="5.1" fill="#c9dff8"/>
<circle cx="1477.35" cy="715.71" r="5.1" fill="#c9dff8"/>
<circle cx="1466.63" cy="734.08" r="5.1" fill="#c9dff8"/>
<circle cx="1488.67" cy="731.63" r="5.1" fill="#c9dff8"/>
<circle cx="1488.67" cy="742.35" r="5.1" fill="#c9dff8"/>
<circle cx="1466.63" cy="748.78" r="5.1" fill="#c9dff8"/>
</g>
<g stroke="#000" stroke-width="2.5" fill="none">
<path d="M1556.49,581.02 V630 M1540.99,605.82 H1571.99 M1548.69,581.02 H1564.29 M1548.69,630 H1564.29"/>
<path d="M1603.63,601.84 V648.37 M1588.13,625.1 H1619.13 M1595.83,601.84 H1611.43 M1595.83,648.37 H1611.43"/>
<path d="M1650.78,600.31 V645.92 M1635.28,623.27 H1666.28 M1642.98,600.31 H1658.58 M1642.98,645.92 H1658.58"/>
<path d="M1697.92,609.18 V654.8 M1682.42,632.14 H1713.42 M1690.12,609.18 H1705.72 M1690.12,654.8 H1705.72"/>
</g>
<g fill="#a00000">
<circle cx="1556.49" cy="475.41" r="5.1" fill="#a00000"/>
<circle cx="1556.49" cy="508.16" r="5.1" fill="#a00000"/>
<circle cx="1556.49" cy="535.1" r="5.1" fill="#a00000"/>
<circle cx="1567.51" cy="550.41" r="5.1" fill="#a00000"/>
<circle cx="1545.78" cy="558.06" r="5.1" fill="#a00000"/>
<circle cx="1567.51" cy="564.49" r="5.1" fill="#a00000"/>
<circle cx="1545.78" cy="569.39" r="5.1" fill="#a00000"/>
<circle cx="1556.49" cy="614.69" r="5.1" fill="#a00000"/>
<circle cx="1556.49" cy="662.14" r="5.1" fill="#a00000"/>
<circle cx="1556.49" cy="671.33" r="5.1" fill="#a00000"/>
<circle cx="1556.49" cy="680.51" r="5.1" fill="#a00000"/>
<circle cx="1556.49" cy="720.92" r="5.1" fill="#a00000"/>
<circle cx="1556.49" cy="762.24" r="5.1" fill="#a00000"/>
<circle cx="1603.63" cy="504.49" r="5.1" fill="#a00000"/>
<circle cx="1603.63" cy="516.73" r="5.1" fill="#a00000"/>
<circle cx="1603.63" cy="532.04" r="5.1" fill="#a00000"/>
<circle cx="1603.63" cy="550.71" r="5.1" fill="#a00000"/>
<circle cx="1603.63" cy="574.29" r="5.1" fill="#a00000"/>
<circle cx="1603.63" cy="589.59" r="5.1" fill="#a00000"/>
<circle cx="1592.92" cy="662.75" r="5.1" fill="#a00000"/>
<circle cx="1599.65" cy="670.71" r="5.1" fill="#a00000"/>
<circle cx="1607.92" cy="669.8" r="5.1" fill="#a00000"/>
<circle cx="1615.27" cy="672.24" r="5.1" fill="#a00000"/>
<circle cx="1599.65" cy="713.57" r="5.1" fill="#a00000"/>
<circle cx="1607.92" cy="719.69" r="5.1" fill="#a00000"/>
<circle cx="1603.63" cy="746.94" r="5.1" fill="#a00000"/>
<circle cx="1650.78" cy="474.18" r="5.1" fill="#a00000"/>
<circle cx="1650.78" cy="537.86" r="5.1" fill="#a00000"/>
<circle cx="1639.14" cy="571.84" r="5.1" fill="#a00000"/>
<circle cx="1646.8" cy="577.96" r="5.1" fill="#a00000"/>
<circle cx="1654.75" cy="573.37" r="5.1" fill="#a00000"/>
<circle cx="1662.1" cy="569.69" r="5.1" fill="#a00000"/>
<circle cx="1650.78" cy="607.96" r="5.1" fill="#a00000"/>
<circle cx="1650.78" cy="634.9" r="5.1" fill="#a00000"/>
<circle cx="1646.8" cy="684.49" r="5.1" fill="#a00000"/>
<circle cx="1654.75" cy="693.67" r="5.1" fill="#a00000"/>
<circle cx="1650.78" cy="707.14" r="5.1" fill="#a00000"/>
<circle cx="1654.75" cy="732.55" r="5.1" fill="#a00000"/>
<circle cx="1646.8" cy="738.67" r="5.1" fill="#a00000"/>
<circle cx="1697.92" cy="517.96" r="5.1" fill="#a00000"/>
<circle cx="1687.2" cy="547.35" r="5.1" fill="#a00000"/>
<circle cx="1708.94" cy="550.71" r="5.1" fill="#a00000"/>
<circle cx="1697.92" cy="555.92" r="5.1" fill="#a00000"/>
<circle cx="1697.92" cy="565.1" r="5.1" fill="#a00000"/>
<circle cx="1697.92" cy="610.41" r="5.1" fill="#a00000"/>
<circle cx="1687.2" cy="655.1" r="5.1" fill="#a00000"/>
<circle cx="1708.94" cy="660.92" r="5.1" fill="#a00000"/>
<circle cx="1697.92" cy="666.12" r="5.1" fill="#a00000"/>
<circle cx="1703.43" cy="676.22" r="5.1" fill="#a00000"/>
<circle cx="1692.71" cy="682.65" r="5.1" fill="#a00000"/>
<circle cx="1697.92" cy="735.61" r="5.1" fill="#a00000"/>
<circle cx="1697.92" cy="794.08" r="5.1" fill="#a00000"/>
</g>
<g stroke="#000" stroke-width="2.5" fill="none">
<path d="M1776.29,592.65 V633.67 M1760.79,613.16 H1791.79 M1768.49,592.65 H1784.09 M1768.49,633.67 H1784.09"/>
<path d="M1824.04,610.41 V653.57 M1808.54,632.14 H1839.54 M1816.24,610.41 H1831.84 M1816.24,653.57 H1831.84"/>
<path d="M1871.18,616.84 V650.51 M1855.68,633.67 H1886.68 M1863.38,616.84 H1878.98 M1863.38,650.51 H1878.98"/>
<path d="M1918.63,621.43 V661.22 M1903.13,641.33 H1934.13 M1910.83,621.43 H1926.43 M1910.83,661.22 H1926.43"/>
</g>
<g fill="#dab2b2">
<circle cx="1776.29" cy="519.49" r="5.1" fill="#dab2b2"/>
<circle cx="1787.92" cy="538.16" r="5.1" fill="#dab2b2"/>
<circle cx="1765.88" cy="545.51" r="5.1" fill="#dab2b2"/>
<circle cx="1787.92" cy="553.47" r="5.1" fill="#dab2b2"/>
<circle cx="1776.29" cy="582.55" r="5.1" fill="#dab2b2"/>
<circle cx="1776.29" cy="598.78" r="5.1" fill="#dab2b2"/>
<circle cx="1787.92" cy="616.84" r="5.1" fill="#dab2b2"/>
<circle cx="1765.88" cy="624.49" r="5.1" fill="#dab2b2"/>
<circle cx="1776.29" cy="648.06" r="5.1" fill="#dab2b2"/>
<circle cx="1776.29" cy="690.31" r="5.1" fill="#dab2b2"/>
<circle cx="1776.29" cy="701.02" r="5.1" fill="#dab2b2"/>
<circle cx="1776.29" cy="738.98" r="5.1" fill="#dab2b2"/>
<circle cx="1824.04" cy="542.14" r="5.1" fill="#dab2b2"/>
<circle cx="1835.37" cy="564.8" r="5.1" fill="#dab2b2"/>
<circle cx="1828.33" cy="569.39" r="5.1" fill="#dab2b2"/>
<circle cx="1820.67" cy="573.37" r="5.1" fill="#dab2b2"/>
<circle cx="1813.02" cy="572.75" r="5.1" fill="#dab2b2"/>
<circle cx="1824.04" cy="597.55" r="5.1" fill="#dab2b2"/>
<circle cx="1824.04" cy="623.88" r="5.1" fill="#dab2b2"/>
<circle cx="1824.04" cy="655.1" r="5.1" fill="#dab2b2"/>
<circle cx="1824.04" cy="678.98" r="5.1" fill="#dab2b2"/>
<circle cx="1824.04" cy="708.67" r="5.1" fill="#dab2b2"/>
<circle cx="1824.04" cy="734.39" r="5.1" fill="#dab2b2"/>
<circle cx="1824.04" cy="761.33" r="5.1" fill="#dab2b2"/>
<circle cx="1871.18" cy="525.92" r="5.1" fill="#dab2b2"/>
<circle cx="1871.18" cy="543.67" r="5.1" fill="#dab2b2"/>
<circle cx="1871.18" cy="573.98" r="5.1" fill="#dab2b2"/>
<circle cx="1871.18" cy="595.1" r="5.1" fill="#dab2b2"/>
<circle cx="1882.51" cy="642.24" r="5.1" fill="#dab2b2"/>
<circle cx="1860.47" cy="649.29" r="5.1" fill="#dab2b2"/>
<circle cx="1882.51" cy="659.39" r="5.1" fill="#dab2b2"/>
<circle cx="1860.47" cy="666.12" r="5.1" fill="#dab2b2"/>
<circle cx="1882.51" cy="672.86" r="5.1" fill="#dab2b2"/>
<circle cx="1860.47" cy="684.49" r="5.1" fill="#dab2b2"/>
<circle cx="1882.51" cy="689.69" r="5.1" fill="#dab2b2"/>
<circle cx="1871.18" cy="700.41" r="5.1" fill="#dab2b2"/>
<circle cx="1918.63" cy="522.24" r="5.1" fill="#dab2b2"/>
<circle cx="1918.63" cy="532.35" r="5.1" fill="#dab2b2"/>
<circle cx="1918.63" cy="582.55" r="5.1" fill="#dab2b2"/>
<circle cx="1918.63" cy="598.47" r="5.1" fill="#dab2b2"/>
<circle cx="1907.92" cy="652.35" r="5.1" fill="#dab2b2"/>
<circle cx="1929.35" cy="659.39" r="5.1" fill="#dab2b2"/>
<circle cx="1907.92" cy="663.06" r="5.1" fill="#dab2b2"/>
<circle cx="1918.63" cy="670.71" r="5.1" fill="#dab2b2"/>
<circle cx="1929.35" cy="669.18" r="5.1" fill="#dab2b2"/>
<circle cx="1918.63" cy="686.33" r="5.1" fill="#dab2b2"/>
<circle cx="1918.63" cy="722.14" r="5.1" fill="#dab2b2"/>
<circle cx="1918.63" cy="736.53" r="5.1" fill="#dab2b2"/>
</g>
<text x="5.94" y="934" font-size="39" font-weight="bold" textLength="23.83" lengthAdjust="spacingAndGlyphs">d</text>
<text x="277.59" y="972.8" font-size="28.2" font-style="italic" textLength="95.6" lengthAdjust="spacingAndGlyphs">APOE3</text>
<text x="713.4" y="972.8" font-size="28.2" font-style="italic" textLength="96.56" lengthAdjust="spacingAndGlyphs">APOE4</text>
<text x="166.99" y="1016.4" font-size="28" textLength="90.64" lengthAdjust="spacingAndGlyphs">Control</text>
<text x="388.94" y="1016.4" font-size="28" textLength="80.1" lengthAdjust="spacingAndGlyphs">17αE2</text>
<text x="606.62" y="1013.3" font-size="28" textLength="89.29" lengthAdjust="spacingAndGlyphs">Control</text>
<text x="829.22" y="1013.3" font-size="28" textLength="80.72" lengthAdjust="spacingAndGlyphs">17αE2</text>
<g stroke="#000" stroke-width="2.5" fill="none" stroke-linecap="butt">
<path d="M101,1028.95 V1502.9 H976"/>
<path d="M81,1502.9 H101"/>
<path d="M81,1030.2 H101"/>
<path d="M81,1148.37 H101"/>
<path d="M81,1266.55 H101"/>
<path d="M81,1384.72 H101"/>
<path d="M132.2,1502.9 V1520.1"/>
<path d="M180.6,1502.9 V1520.1"/>
<path d="M228,1502.9 V1520.1"/>
<path d="M276.1,1502.9 V1520.1"/>
<path d="M355.1,1502.9 V1520.1"/>
<path d="M403.4,1502.9 V1520.1"/>
<path d="M450,1502.9 V1520.1"/>
<path d="M498,1502.9 V1520.1"/>
<path d="M577.7,1502.9 V1520.1"/>
<path d="M624.9,1502.9 V1520.1"/>
<path d="M673,1502.9 V1520.1"/>
<path d="M720.7,1502.9 V1520.1"/>
<path d="M800.3,1502.9 V1520.1"/>
<path d="M847.4,1502.9 V1520.1"/>
<path d="M895.2,1502.9 V1520.1"/>
<path d="M943,1502.9 V1520.1"/>
</g>
<text x="43.33" y="1041.2" font-size="30.8" textLength="35.05" lengthAdjust="spacingAndGlyphs">80</text>
<text x="43.33" y="1157" font-size="30.8" textLength="35.05" lengthAdjust="spacingAndGlyphs">60</text>
<text x="43.33" y="1272.9" font-size="30.8" textLength="35.05" lengthAdjust="spacingAndGlyphs">40</text>
<text x="43.33" y="1394.2" font-size="30.8" textLength="35.05" lengthAdjust="spacingAndGlyphs">20</text>
<text x="60.97" y="1514.1" font-size="30.8" textLength="17.52" lengthAdjust="spacingAndGlyphs">0</text>
<text x="122.12" y="1550" font-size="30.5" textLength="16.45" lengthAdjust="spacingAndGlyphs">1</text>
<text x="170.89" y="1550" font-size="30.5" textLength="16.45" lengthAdjust="spacingAndGlyphs">2</text>
<text x="218.36" y="1550" font-size="30.5" textLength="16.45" lengthAdjust="spacingAndGlyphs">3</text>
<text x="266.46" y="1550" font-size="30.5" textLength="16.45" lengthAdjust="spacingAndGlyphs">4</text>
<text x="345.02" y="1550" font-size="30.5" textLength="16.45" lengthAdjust="spacingAndGlyphs">1</text>
<text x="393.69" y="1550" font-size="30.5" textLength="16.45" lengthAdjust="spacingAndGlyphs">2</text>
<text x="440.36" y="1550" font-size="30.5" textLength="16.45" lengthAdjust="spacingAndGlyphs">3</text>
<text x="488.36" y="1550" font-size="30.5" textLength="16.45" lengthAdjust="spacingAndGlyphs">4</text>
<text x="567.62" y="1550" font-size="30.5" textLength="16.45" lengthAdjust="spacingAndGlyphs">1</text>
<text x="615.19" y="1550" font-size="30.5" textLength="16.45" lengthAdjust="spacingAndGlyphs">2</text>
<text x="663.36" y="1550" font-size="30.5" textLength="16.45" lengthAdjust="spacingAndGlyphs">3</text>
<text x="711.06" y="1550" font-size="30.5" textLength="16.45" lengthAdjust="spacingAndGlyphs">4</text>
<text x="790.22" y="1550" font-size="30.5" textLength="16.45" lengthAdjust="spacingAndGlyphs">1</text>
<text x="837.69" y="1550" font-size="30.5" textLength="16.45" lengthAdjust="spacingAndGlyphs">2</text>
<text x="885.56" y="1550" font-size="30.5" textLength="16.45" lengthAdjust="spacingAndGlyphs">3</text>
<text x="933.36" y="1550" font-size="30.5" textLength="16.45" lengthAdjust="spacingAndGlyphs">4</text>
<text x="23.2" y="1334.09" font-size="29" textLength="137.59" lengthAdjust="spacingAndGlyphs" transform="rotate(-90 23.2 1334.09)">Total errors</text>
<text x="462.97" y="1586" font-size="28.4" textLength="163.32" lengthAdjust="spacingAndGlyphs">Training Day</text>
<g stroke="#000" stroke-width="2.5" fill="none">
<path d="M132.24,1309.29 V1335.92 M116.74,1322.14 H147.74 M124.44,1309.29 H140.04 M124.44,1335.92 H140.04"/>
<path d="M180.61,1344.18 V1376.94 M165.11,1360.41 H196.11 M172.81,1344.18 H188.41 M172.81,1376.94 H188.41"/>
<path d="M228.06,1355.82 V1386.73 M212.56,1371.12 H243.56 M220.26,1355.82 H235.86 M220.26,1386.73 H235.86"/>
<path d="M276.12,1366.53 V1411.84 M260.62,1388.88 H291.62 M268.32,1366.53 H283.92 M268.32,1411.84 H283.92"/>
</g>
<g fill="#0000c0">
<circle cx="132.24" cy="1266.43" r="5.1" fill="#0000c0"/>
<circle cx="143.88" cy="1278.37" r="5.1" fill="#0000c0"/>
<circle cx="122.45" cy="1284.49" r="5.1" fill="#0000c0"/>
<circle cx="132.24" cy="1296.12" r="5.1" fill="#0000c0"/>
<circle cx="122.45" cy="1307.75" r="5.1" fill="#0000c0"/>
<circle cx="143.88" cy="1313.88" r="5.1" fill="#0000c0"/>
<circle cx="132.24" cy="1325.82" r="5.1" fill="#0000c0"/>
<circle cx="122.45" cy="1343.57" r="5.1" fill="#0000c0"/>
<circle cx="143.88" cy="1343.57" r="5.1" fill="#0000c0"/>
<circle cx="132.24" cy="1378.78" r="5.1" fill="#0000c0"/>
<circle cx="132.24" cy="1408.47" r="5.1" fill="#0000c0"/>
<circle cx="191.94" cy="1284.49" r="5.1" fill="#0000c0"/>
<circle cx="180.61" cy="1290.61" r="5.1" fill="#0000c0"/>
<circle cx="180.61" cy="1313.88" r="5.1" fill="#0000c0"/>
<circle cx="180.61" cy="1342.96" r="5.1" fill="#0000c0"/>
<circle cx="169.29" cy="1361.02" r="5.1" fill="#0000c0"/>
<circle cx="191.94" cy="1361.02" r="5.1" fill="#0000c0"/>
<circle cx="180.61" cy="1366.53" r="5.1" fill="#0000c0"/>
<circle cx="169.29" cy="1372.65" r="5.1" fill="#0000c0"/>
<circle cx="191.94" cy="1379.39" r="5.1" fill="#0000c0"/>
<circle cx="180.61" cy="1438.47" r="5.1" fill="#0000c0"/>
<circle cx="180.61" cy="1455.92" r="5.1" fill="#0000c0"/>
<circle cx="228.06" cy="1284.49" r="5.1" fill="#0000c0"/>
<circle cx="234.18" cy="1320" r="5.1" fill="#0000c0"/>
<circle cx="222.86" cy="1325.82" r="5.1" fill="#0000c0"/>
<circle cx="228.06" cy="1349.08" r="5.1" fill="#0000c0"/>
<circle cx="228.06" cy="1361.02" r="5.1" fill="#0000c0"/>
<circle cx="217.35" cy="1378.78" r="5.1" fill="#0000c0"/>
<circle cx="228.06" cy="1384.9" r="5.1" fill="#0000c0"/>
<circle cx="239.39" cy="1384.9" r="5.1" fill="#0000c0"/>
<circle cx="228.06" cy="1408.47" r="5.1" fill="#0000c0"/>
<circle cx="228.06" cy="1438.47" r="5.1" fill="#0000c0"/>
<circle cx="228.06" cy="1449.8" r="5.1" fill="#0000c0"/>
<circle cx="276.12" cy="1272.55" r="5.1" fill="#0000c0"/>
<circle cx="276.12" cy="1302.24" r="5.1" fill="#0000c0"/>
<circle cx="276.12" cy="1320" r="5.1" fill="#0000c0"/>
<circle cx="276.12" cy="1355.2" r="5.1" fill="#0000c0"/>
<circle cx="276.12" cy="1367.14" r="5.1" fill="#0000c0"/>
<circle cx="276.12" cy="1390.41" r="5.1" fill="#0000c0"/>
<circle cx="276.12" cy="1408.47" r="5.1" fill="#0000c0"/>
<circle cx="287.14" cy="1438.47" r="5.1" fill="#0000c0"/>
<circle cx="265.41" cy="1443.98" r="5.1" fill="#0000c0"/>
<circle cx="276.12" cy="1479.18" r="5.1" fill="#0000c0"/>
<circle cx="276.12" cy="1502.75" r="5.1" fill="#0000c0"/>
</g>
<g stroke="#000" stroke-width="2.5" fill="none">
<path d="M355.1,1307.75 V1336.84 M339.6,1322.14 H370.6 M347.3,1307.75 H362.9 M347.3,1336.84 H362.9"/>
<path d="M403.47,1327.35 V1355.82 M387.97,1341.12 H418.97 M395.67,1327.35 H411.27 M395.67,1355.82 H411.27"/>
<path d="M450,1356.73 V1385.51 M434.5,1371.12 H465.5 M442.2,1356.73 H457.8 M442.2,1385.51 H457.8"/>
<path d="M498.06,1375.1 V1407.86 M482.56,1391.33 H513.56 M490.26,1375.1 H505.86 M490.26,1407.86 H505.86"/>
</g>
<g fill="#c9dff8">
<circle cx="355.1" cy="1236.43" r="5.1" fill="#c9dff8"/>
<circle cx="355.1" cy="1248.06" r="5.1" fill="#c9dff8"/>
<circle cx="355.1" cy="1272.55" r="5.1" fill="#c9dff8"/>
<circle cx="355.1" cy="1284.49" r="5.1" fill="#c9dff8"/>
<circle cx="355.1" cy="1296.12" r="5.1" fill="#c9dff8"/>
<circle cx="355.1" cy="1307.75" r="5.1" fill="#c9dff8"/>
<circle cx="344.39" cy="1313.88" r="5.1" fill="#c9dff8"/>
<circle cx="366.43" cy="1313.88" r="5.1" fill="#c9dff8"/>
<circle cx="355.1" cy="1319.08" r="5.1" fill="#c9dff8"/>
<circle cx="350.51" cy="1367.14" r="5.1" fill="#c9dff8"/>
<circle cx="361.22" cy="1372.65" r="5.1" fill="#c9dff8"/>
<circle cx="350.51" cy="1384.9" r="5.1" fill="#c9dff8"/>
<circle cx="361.22" cy="1390.41" r="5.1" fill="#c9dff8"/>
<circle cx="355.1" cy="1402.35" r="5.1" fill="#c9dff8"/>
<circle cx="414.18" cy="1266.43" r="5.1" fill="#c9dff8"/>
<circle cx="403.47" cy="1272.55" r="5.1" fill="#c9dff8"/>
<circle cx="414.18" cy="1290.61" r="5.1" fill="#c9dff8"/>
<circle cx="403.47" cy="1296.12" r="5.1" fill="#c9dff8"/>
<circle cx="403.47" cy="1320" r="5.1" fill="#c9dff8"/>
<circle cx="392.45" cy="1331.94" r="5.1" fill="#c9dff8"/>
<circle cx="403.47" cy="1337.45" r="5.1" fill="#c9dff8"/>
<circle cx="414.18" cy="1337.45" r="5.1" fill="#c9dff8"/>
<circle cx="392.45" cy="1343.57" r="5.1" fill="#c9dff8"/>
<circle cx="403.47" cy="1349.08" r="5.1" fill="#c9dff8"/>
<circle cx="414.18" cy="1384.9" r="5.1" fill="#c9dff8"/>
<circle cx="403.47" cy="1390.41" r="5.1" fill="#c9dff8"/>
<circle cx="408.67" cy="1426.22" r="5.1" fill="#c9dff8"/>
<circle cx="397.96" cy="1432.35" r="5.1" fill="#c9dff8"/>
<circle cx="450" cy="1266.43" r="5.1" fill="#c9dff8"/>
<circle cx="450" cy="1320" r="5.1" fill="#c9dff8"/>
<circle cx="450" cy="1337.45" r="5.1" fill="#c9dff8"/>
<circle cx="439.29" cy="1343.57" r="5.1" fill="#c9dff8"/>
<circle cx="461.33" cy="1343.57" r="5.1" fill="#c9dff8"/>
<circle cx="450" cy="1349.08" r="5.1" fill="#c9dff8"/>
<circle cx="439.29" cy="1355.2" r="5.1" fill="#c9dff8"/>
<circle cx="450" cy="1361.02" r="5.1" fill="#c9dff8"/>
<circle cx="450" cy="1378.78" r="5.1" fill="#c9dff8"/>
<circle cx="450" cy="1390.41" r="5.1" fill="#c9dff8"/>
<circle cx="450" cy="1414.59" r="5.1" fill="#c9dff8"/>
<circle cx="450" cy="1438.47" r="5.1" fill="#c9dff8"/>
<circle cx="444.8" cy="1449.8" r="5.1" fill="#c9dff8"/>
<circle cx="456.12" cy="1449.8" r="5.1" fill="#c9dff8"/>
<circle cx="498.06" cy="1290.61" r="5.1" fill="#c9dff8"/>
<circle cx="498.06" cy="1307.75" r="5.1" fill="#c9dff8"/>
<circle cx="498.06" cy="1337.45" r="5.1" fill="#c9dff8"/>
<circle cx="509.08" cy="1337.45" r="5.1" fill="#c9dff8"/>
<circle cx="487.35" cy="1343.57" r="5.1" fill="#c9dff8"/>
<circle cx="498.06" cy="1372.65" r="5.1" fill="#c9dff8"/>
<circle cx="498.06" cy="1390.41" r="5.1" fill="#c9dff8"/>
<circle cx="492.86" cy="1414.59" r="5.1" fill="#c9dff8"/>
<circle cx="503.57" cy="1420.1" r="5.1" fill="#c9dff8"/>
<circle cx="487.35" cy="1438.47" r="5.1" fill="#c9dff8"/>
<circle cx="498.06" cy="1443.98" r="5.1" fill="#c9dff8"/>
<circle cx="498.06" cy="1455.92" r="5.1" fill="#c9dff8"/>
<circle cx="492.86" cy="1467.55" r="5.1" fill="#c9dff8"/>
<circle cx="503.57" cy="1467.55" r="5.1" fill="#c9dff8"/>
</g>
<g stroke="#000" stroke-width="2.5" fill="none">
<path d="M577.76,1331.33 V1368.06 M562.26,1350 H593.26 M569.96,1331.33 H585.56 M569.96,1368.06 H585.56"/>
<path d="M624.9,1324.59 V1356.73 M609.4,1340.82 H640.4 M617.1,1324.59 H632.7 M617.1,1356.73 H632.7"/>
<path d="M672.96,1299.49 V1342.96 M657.46,1321.22 H688.46 M665.16,1299.49 H680.76 M665.16,1342.96 H680.76"/>
<path d="M720.71,1297.65 V1341.12 M705.21,1319.08 H736.21 M712.91,1297.65 H728.51 M712.91,1341.12 H728.51"/>
</g>
<g fill="#a00000">
<circle cx="577.76" cy="1248.06" r="5.1" fill="#a00000"/>
<circle cx="566.73" cy="1290.61" r="5.1" fill="#a00000"/>
<circle cx="588.78" cy="1290.61" r="5.1" fill="#a00000"/>
<circle cx="577.76" cy="1295.51" r="5.1" fill="#a00000"/>
<circle cx="566.73" cy="1313.88" r="5.1" fill="#a00000"/>
<circle cx="577.76" cy="1320" r="5.1" fill="#a00000"/>
<circle cx="577.76" cy="1343.57" r="5.1" fill="#a00000"/>
<circle cx="577.76" cy="1355.2" r="5.1" fill="#a00000"/>
<circle cx="577.76" cy="1372.65" r="5.1" fill="#a00000"/>
<circle cx="577.76" cy="1390.41" r="5.1" fill="#a00000"/>
<circle cx="577.76" cy="1402.35" r="5.1" fill="#a00000"/>
<circle cx="577.76" cy="1443.98" r="5.1" fill="#a00000"/>
<circle cx="577.76" cy="1479.18" r="5.1" fill="#a00000"/>
<circle cx="624.9" cy="1260" r="5.1" fill="#a00000"/>
<circle cx="624.9" cy="1278.37" r="5.1" fill="#a00000"/>
<circle cx="619.39" cy="1290.61" r="5.1" fill="#a00000"/>
<circle cx="630.71" cy="1290.61" r="5.1" fill="#a00000"/>
<circle cx="636.84" cy="1313.88" r="5.1" fill="#a00000"/>
<circle cx="614.18" cy="1320" r="5.1" fill="#a00000"/>
<circle cx="624.9" cy="1320" r="5.1" fill="#a00000"/>
<circle cx="636.84" cy="1355.2" r="5.1" fill="#a00000"/>
<circle cx="624.9" cy="1361.02" r="5.1" fill="#a00000"/>
<circle cx="624.9" cy="1372.65" r="5.1" fill="#a00000"/>
<circle cx="624.9" cy="1390.41" r="5.1" fill="#a00000"/>
<circle cx="624.9" cy="1414.59" r="5.1" fill="#a00000"/>
<circle cx="624.9" cy="1461.73" r="5.1" fill="#a00000"/>
<circle cx="672.96" cy="1159.29" r="5.1" fill="#a00000"/>
<circle cx="672.96" cy="1253.88" r="5.1" fill="#a00000"/>
<circle cx="672.96" cy="1266.43" r="5.1" fill="#a00000"/>
<circle cx="662.24" cy="1272.55" r="5.1" fill="#a00000"/>
<circle cx="672.96" cy="1278.37" r="5.1" fill="#a00000"/>
<circle cx="672.96" cy="1290.61" r="5.1" fill="#a00000"/>
<circle cx="672.96" cy="1302.24" r="5.1" fill="#a00000"/>
<circle cx="662.24" cy="1367.14" r="5.1" fill="#a00000"/>
<circle cx="672.96" cy="1372.65" r="5.1" fill="#a00000"/>
<circle cx="683.98" cy="1372.65" r="5.1" fill="#a00000"/>
<circle cx="672.96" cy="1390.41" r="5.1" fill="#a00000"/>
<circle cx="678.47" cy="1420.1" r="5.1" fill="#a00000"/>
<circle cx="667.45" cy="1426.22" r="5.1" fill="#a00000"/>
<circle cx="720.71" cy="1165.71" r="5.1" fill="#a00000"/>
<circle cx="720.71" cy="1242.55" r="5.1" fill="#a00000"/>
<circle cx="720.71" cy="1253.88" r="5.1" fill="#a00000"/>
<circle cx="720.71" cy="1284.49" r="5.1" fill="#a00000"/>
<circle cx="710" cy="1308.37" r="5.1" fill="#a00000"/>
<circle cx="720.71" cy="1308.37" r="5.1" fill="#a00000"/>
<circle cx="731.73" cy="1308.37" r="5.1" fill="#a00000"/>
<circle cx="720.71" cy="1320" r="5.1" fill="#a00000"/>
<circle cx="720.71" cy="1331.94" r="5.1" fill="#a00000"/>
<circle cx="720.71" cy="1361.02" r="5.1" fill="#a00000"/>
<circle cx="720.71" cy="1378.78" r="5.1" fill="#a00000"/>
<circle cx="720.71" cy="1408.47" r="5.1" fill="#a00000"/>
<circle cx="720.71" cy="1479.18" r="5.1" fill="#a00000"/>
</g>
<g stroke="#000" stroke-width="2.5" fill="none">
<path d="M800.31,1340.51 V1369.59 M784.81,1354.9 H815.81 M792.51,1340.51 H808.11 M792.51,1369.59 H808.11"/>
<path d="M847.45,1324.29 V1360.41 M831.95,1342.04 H862.95 M839.65,1324.29 H855.25 M839.65,1360.41 H855.25"/>
<path d="M895.2,1349.08 V1371.73 M879.7,1361.02 H910.7 M887.4,1349.08 H903 M887.4,1371.73 H903"/>
<path d="M942.96,1357.35 V1380.31 M927.46,1365.61 H958.46 M935.16,1357.35 H950.76 M935.16,1380.31 H950.76"/>
</g>
<g fill="#dab2b2">
<circle cx="800.31" cy="1266.43" r="5.1" fill="#dab2b2"/>
<circle cx="789.59" cy="1313.88" r="5.1" fill="#dab2b2"/>
<circle cx="811.63" cy="1313.88" r="5.1" fill="#dab2b2"/>
<circle cx="811.63" cy="1325.82" r="5.1" fill="#dab2b2"/>
<circle cx="789.59" cy="1331.33" r="5.1" fill="#dab2b2"/>
<circle cx="811.63" cy="1337.45" r="5.1" fill="#dab2b2"/>
<circle cx="800.31" cy="1355.2" r="5.1" fill="#dab2b2"/>
<circle cx="811.63" cy="1366.53" r="5.1" fill="#dab2b2"/>
<circle cx="789.59" cy="1372.65" r="5.1" fill="#dab2b2"/>
<circle cx="811.63" cy="1378.78" r="5.1" fill="#dab2b2"/>
<circle cx="800.31" cy="1390.41" r="5.1" fill="#dab2b2"/>
<circle cx="800.31" cy="1402.35" r="5.1" fill="#dab2b2"/>
<circle cx="800.31" cy="1455.92" r="5.1" fill="#dab2b2"/>
<circle cx="847.45" cy="1242.55" r="5.1" fill="#dab2b2"/>
<circle cx="836.73" cy="1260" r="5.1" fill="#dab2b2"/>
<circle cx="858.78" cy="1260" r="5.1" fill="#dab2b2"/>
<circle cx="847.45" cy="1320" r="5.1" fill="#dab2b2"/>
<circle cx="847.45" cy="1331.33" r="5.1" fill="#dab2b2"/>
<circle cx="836.73" cy="1349.08" r="5.1" fill="#dab2b2"/>
<circle cx="858.78" cy="1349.08" r="5.1" fill="#dab2b2"/>
<circle cx="847.45" cy="1367.14" r="5.1" fill="#dab2b2"/>
<circle cx="847.45" cy="1378.78" r="5.1" fill="#dab2b2"/>
<circle cx="847.45" cy="1390.41" r="5.1" fill="#dab2b2"/>
<circle cx="847.45" cy="1408.47" r="5.1" fill="#dab2b2"/>
<circle cx="847.45" cy="1443.98" r="5.1" fill="#dab2b2"/>
<circle cx="895.2" cy="1284.49" r="5.1" fill="#dab2b2"/>
<circle cx="895.2" cy="1313.88" r="5.1" fill="#dab2b2"/>
<circle cx="906.53" cy="1337.45" r="5.1" fill="#dab2b2"/>
<circle cx="884.18" cy="1343.57" r="5.1" fill="#dab2b2"/>
<circle cx="906.53" cy="1349.08" r="5.1" fill="#dab2b2"/>
<circle cx="884.18" cy="1355.2" r="5.1" fill="#dab2b2"/>
<circle cx="906.53" cy="1361.02" r="5.1" fill="#dab2b2"/>
<circle cx="884.18" cy="1367.14" r="5.1" fill="#dab2b2"/>
<circle cx="895.2" cy="1384.9" r="5.1" fill="#dab2b2"/>
<circle cx="895.2" cy="1396.53" r="5.1" fill="#dab2b2"/>
<circle cx="895.2" cy="1408.47" r="5.1" fill="#dab2b2"/>
<circle cx="895.2" cy="1426.22" r="5.1" fill="#dab2b2"/>
<circle cx="942.96" cy="1253.88" r="5.1" fill="#dab2b2"/>
<circle cx="939.29" cy="1343.57" r="5.1" fill="#dab2b2"/>
<circle cx="953.98" cy="1343.57" r="5.1" fill="#dab2b2"/>
<circle cx="931.63" cy="1349.08" r="5.1" fill="#dab2b2"/>
<circle cx="946.94" cy="1349.08" r="5.1" fill="#dab2b2"/>
<circle cx="939.29" cy="1355.2" r="5.1" fill="#dab2b2"/>
<circle cx="953.98" cy="1355.2" r="5.1" fill="#dab2b2"/>
<circle cx="942.96" cy="1372.65" r="5.1" fill="#dab2b2"/>
<circle cx="934.69" cy="1402.35" r="5.1" fill="#dab2b2"/>
<circle cx="942.96" cy="1402.35" r="5.1" fill="#dab2b2"/>
<circle cx="950.61" cy="1402.35" r="5.1" fill="#dab2b2"/>
<circle cx="942.96" cy="1461.73" r="5.1" fill="#dab2b2"/>
</g>
<text x="1060.94" y="934.8" font-size="39" font-weight="bold" textLength="21.67" lengthAdjust="spacingAndGlyphs">e</text>
<g stroke="#000" stroke-width="2.2" fill="none">
<path d="M1182.6,1035 V1498.9"/>
<path d="M1163,1498.9 H1646.5"/>
<path d="M1163,1406.34 H1182.6"/>
<path d="M1163,1313.78 H1182.6"/>
<path d="M1163,1221.22 H1182.6"/>
<path d="M1163,1128.66 H1182.6"/>
<path d="M1163,1036.1 H1182.6"/>
</g>
<text x="1104.05" y="1045.8" font-size="30.5" textLength="49.39" lengthAdjust="spacingAndGlyphs">100</text>
<text x="1120.48" y="1143.2" font-size="30.5" textLength="32.93" lengthAdjust="spacingAndGlyphs">80</text>
<text x="1120.48" y="1232.9" font-size="30.5" textLength="32.93" lengthAdjust="spacingAndGlyphs">60</text>
<text x="1120.48" y="1325.4" font-size="30.5" textLength="32.93" lengthAdjust="spacingAndGlyphs">40</text>
<text x="1120.48" y="1415.6" font-size="30.5" textLength="32.93" lengthAdjust="spacingAndGlyphs">20</text>
<text x="1137.06" y="1507.7" font-size="30.5" textLength="16.46" lengthAdjust="spacingAndGlyphs">0</text>
<text x="1094.8" y="1374.52" font-size="28.2" textLength="223.65" lengthAdjust="spacingAndGlyphs" transform="rotate(-90 1094.8 1374.52)">Probe total errors</text>
<rect x="1214" y="1350.6" width="60.8" height="148.3" fill="#0000c0" stroke="#000" stroke-width="2.2"/>
<rect x="1306.4" y="1357.6" width="60.1" height="141.3" fill="#c9dff8" stroke="#000" stroke-width="2.2"/>
<rect x="1461" y="1242.8" width="60" height="256.1" fill="#a00000" stroke="#000" stroke-width="2.2"/>
<rect x="1553.9" y="1321.5" width="60.1" height="177.4" fill="#dab2b2" stroke="#000" stroke-width="2.2"/>
<path d="M1244.18,1325.2 V1374.49 M1228.88,1325.2 H1259.48 M1228.88,1374.49 H1259.48" stroke="#000" stroke-width="2.3" fill="none"/>
<path d="M1336.33,1331.02 V1382.75 M1321.03,1331.02 H1351.63 M1321.03,1382.75 H1351.63" stroke="#000" stroke-width="2.3" fill="none"/>
<path d="M1490.92,1222.65 V1261.53 M1475.62,1222.65 H1506.22 M1475.62,1261.53 H1506.22" stroke="#000" stroke-width="2.3" fill="none"/>
<path d="M1583.67,1301.63 V1339.29 M1568.37,1301.63 H1598.97 M1568.37,1339.29 H1598.97" stroke="#000" stroke-width="2.3" fill="none"/>
<g fill="#000">
<circle cx="1244.18" cy="1184.69" r="4.9" fill="#000"/>
<circle cx="1244.18" cy="1277.14" r="4.9" fill="#000"/>
<circle cx="1244.18" cy="1323.06" r="4.9" fill="#000"/>
<circle cx="1252.76" cy="1332.86" r="4.9" fill="#000"/>
<circle cx="1235" cy="1337.45" r="4.9" fill="#000"/>
<circle cx="1235" cy="1350.61" r="4.9" fill="#000"/>
<circle cx="1252.76" cy="1350.61" r="4.9" fill="#000"/>
<circle cx="1244.18" cy="1359.8" r="4.9" fill="#000"/>
<circle cx="1244.18" cy="1378.78" r="4.9" fill="#000"/>
<circle cx="1244.18" cy="1466.94" r="4.9" fill="#000"/>
<circle cx="1244.18" cy="1485.31" r="4.9" fill="#000"/>
<circle cx="1336.33" cy="1166.02" r="4.9" fill="#000"/>
<circle cx="1336.33" cy="1230.61" r="4.9" fill="#000"/>
<circle cx="1336.33" cy="1281.73" r="4.9" fill="#000"/>
<circle cx="1327.45" cy="1304.69" r="4.9" fill="#000"/>
<circle cx="1310" cy="1309.29" r="4.9" fill="#000"/>
<circle cx="1345.2" cy="1309.29" r="4.9" fill="#000"/>
<circle cx="1327.45" cy="1314.49" r="4.9" fill="#000"/>
<circle cx="1336.33" cy="1383.37" r="4.9" fill="#000"/>
<circle cx="1336.33" cy="1415.82" r="4.9" fill="#000"/>
<circle cx="1318.88" cy="1443.98" r="4.9" fill="#000"/>
<circle cx="1336.33" cy="1443.98" r="4.9" fill="#000"/>
<circle cx="1353.47" cy="1443.98" r="4.9" fill="#000"/>
<circle cx="1336.33" cy="1466.94" r="4.9" fill="#000"/>
<circle cx="1336.33" cy="1480.1" r="4.9" fill="#000"/>
<circle cx="1490.92" cy="1091.94" r="4.9" fill="#000"/>
<circle cx="1490.92" cy="1193.88" r="4.9" fill="#000"/>
<circle cx="1481.43" cy="1211.94" r="4.9" fill="#000"/>
<circle cx="1499.8" cy="1216.53" r="4.9" fill="#000"/>
<circle cx="1490.92" cy="1226.02" r="4.9" fill="#000"/>
<circle cx="1490.92" cy="1263.37" r="4.9" fill="#000"/>
<circle cx="1490.92" cy="1272.55" r="4.9" fill="#000"/>
<circle cx="1472.24" cy="1277.14" r="4.9" fill="#000"/>
<circle cx="1509.29" cy="1281.73" r="4.9" fill="#000"/>
<circle cx="1490.92" cy="1308.67" r="4.9" fill="#000"/>
<circle cx="1490.92" cy="1319.08" r="4.9" fill="#000"/>
<circle cx="1583.67" cy="1207.35" r="4.9" fill="#000"/>
<circle cx="1583.67" cy="1239.8" r="4.9" fill="#000"/>
<circle cx="1583.67" cy="1263.37" r="4.9" fill="#000"/>
<circle cx="1574.18" cy="1286.33" r="4.9" fill="#000"/>
<circle cx="1592.55" cy="1286.33" r="4.9" fill="#000"/>
<circle cx="1583.67" cy="1323.67" r="4.9" fill="#000"/>
<circle cx="1583.67" cy="1336.84" r="4.9" fill="#000"/>
<circle cx="1583.67" cy="1346.94" r="4.9" fill="#000"/>
<circle cx="1583.67" cy="1365.31" r="4.9" fill="#000"/>
<circle cx="1583.67" cy="1378.78" r="4.9" fill="#000"/>
<circle cx="1592.55" cy="1402.04" r="4.9" fill="#000"/>
<circle cx="1574.18" cy="1407.24" r="4.9" fill="#000"/>
</g>
<text x="1277.2" y="1529.3" font-size="27.6" text-anchor="end" transform="rotate(-42 1277.2 1529.3)">Control</text>
<text x="1347.8" y="1529.3" font-size="27.6" text-anchor="end" transform="rotate(-42 1347.8 1529.3)">17αE2</text>
<text x="1519.6" y="1529.3" font-size="27.6" text-anchor="end" transform="rotate(-42 1519.6 1529.3)">Control</text>
<text x="1587.4" y="1529.3" font-size="27.6" text-anchor="end" transform="rotate(-42 1587.4 1529.3)">17αE2</text>
<text x="1237.11" y="1609.7" font-size="28.2" font-style="italic" textLength="96.88" lengthAdjust="spacingAndGlyphs">APOE3</text>
<text x="1483.91" y="1609.7" font-size="28.2" font-style="italic" textLength="96.75" lengthAdjust="spacingAndGlyphs">APOE4</text>
<path d="M1241,996.3 V974.3 H1568.7 V996.3" stroke="#000" stroke-width="2.2" fill="none"/>
<text x="1401" y="966.8" font-size="23" text-anchor="middle">n.s.</text>
<path d="M1241,1041.9 V1019.9 H1486.4 V1041.9" stroke="#000" stroke-width="2.2" fill="none"/>
<text x="1368.5" y="1014.3" font-size="23" text-anchor="middle">0.05</text>
<path d="M1242,1081.2 V1064.2 H1326.3 V1081.2" stroke="#000" stroke-width="2.2" fill="none"/>
<text x="1290.7" y="1059.6" font-size="23" text-anchor="middle">n.s.</text>
<path d="M1486.4,1081.2 V1064.2 H1571.4 V1081.2" stroke="#000" stroke-width="2.2" fill="none"/>
<text x="1532.8" y="1059.6" font-size="23" text-anchor="middle">n.s.</text>
<text x="7.58" y="1669.8" font-size="39" font-weight="bold" textLength="13.74" lengthAdjust="spacingAndGlyphs">f</text>
<g stroke="#000" stroke-width="2.4" fill="none">
<path d="M252.2,1827.6 V2313"/>
<path d="M252.2,1845.4 H714.3"/>
<path d="M344.62,1827.6 V1846.7"/>
<path d="M437.04,1827.6 V1846.7"/>
<path d="M529.46,1827.6 V1846.7"/>
<path d="M621.88,1827.6 V1846.7"/>
<path d="M714.3,1827.6 V1846.7"/>
</g>
<text x="240.29" y="1817" font-size="27.8" textLength="15.46" lengthAdjust="spacingAndGlyphs">0</text>
<text x="330.14" y="1817" font-size="27.8" textLength="32.24" lengthAdjust="spacingAndGlyphs">50</text>
<text x="416.57" y="1817" font-size="27.8" textLength="47.43" lengthAdjust="spacingAndGlyphs">100</text>
<text x="507.93" y="1817" font-size="27.8" textLength="46.14" lengthAdjust="spacingAndGlyphs">150</text>
<text x="600.28" y="1817" font-size="27.8" textLength="47.52" lengthAdjust="spacingAndGlyphs">200</text>
<text x="692.77" y="1817" font-size="27.8" textLength="47.63" lengthAdjust="spacingAndGlyphs">250</text>
<text x="329.97" y="1759" font-size="28.2" textLength="333.71" lengthAdjust="spacingAndGlyphs">4HNE % difference (RFU)</text>
<rect x="252.2" y="1878.7" width="183.7" height="59.6" fill="#0000c0" stroke="#000" stroke-width="2.5"/>
<rect x="252.2" y="1971.3" width="206.1" height="59.6" fill="#c9dff8" stroke="#000" stroke-width="2.5"/>
<rect x="252.2" y="2125.1" width="289.3" height="59.6" fill="#a00000" stroke="#000" stroke-width="2.5"/>
<rect x="252.2" y="2218.1" width="136.7" height="60.5" fill="#dab2b2" stroke="#000" stroke-width="2.5"/>
<path d="M405.9,1908.5 H468.1 M405.9,1893 V1924 M468.1,1893 V1924" stroke="#000" stroke-width="2.3" fill="none"/>
<path d="M431.9,2001.1 H486.4 M431.9,1985.6 V2016.6 M486.4,1985.6 V2016.6" stroke="#000" stroke-width="2.3" fill="none"/>
<path d="M513.6,2154.9 H570.8 M513.6,2139.4 V2170.4 M570.8,2139.4 V2170.4" stroke="#000" stroke-width="2.3" fill="none"/>
<path d="M376.4,2248.35 H402.1 M376.4,2232.85 V2263.85 M402.1,2232.85 V2263.85" stroke="#000" stroke-width="2.3" fill="none"/>
<g fill="#000">
<circle cx="289.52" cy="1908.29" r="4.9" fill="#000"/>
<circle cx="361.9" cy="1898.96" r="4.9" fill="#000"/>
<circle cx="353.21" cy="1917.61" r="4.9" fill="#000"/>
<circle cx="390.85" cy="1898.96" r="4.9" fill="#000"/>
<circle cx="385.38" cy="1917.61" r="4.9" fill="#000"/>
<circle cx="415.94" cy="1908.29" r="4.9" fill="#000"/>
<circle cx="507.3" cy="1908.29" r="4.9" fill="#000"/>
<circle cx="549.91" cy="1898.96" r="4.9" fill="#000"/>
<circle cx="564.38" cy="1908.29" r="4.9" fill="#000"/>
<circle cx="551.51" cy="1917.61" r="4.9" fill="#000"/>
<circle cx="368.33" cy="2000.93" r="4.9" fill="#000"/>
<circle cx="379.91" cy="2000.93" r="4.9" fill="#000"/>
<circle cx="395.67" cy="1990.96" r="4.9" fill="#000"/>
<circle cx="397.28" cy="2010.9" r="4.9" fill="#000"/>
<circle cx="421.73" cy="2000.93" r="4.9" fill="#000"/>
<circle cx="467.09" cy="1990.96" r="4.9" fill="#000"/>
<circle cx="463.23" cy="2010.9" r="4.9" fill="#000"/>
<circle cx="524.35" cy="2000.93" r="4.9" fill="#000"/>
<circle cx="541.54" cy="2000.93" r="4.9" fill="#000"/>
<circle cx="633.22" cy="2000.93" r="4.9" fill="#000"/>
<circle cx="382.81" cy="2155.34" r="4.9" fill="#000"/>
<circle cx="460.33" cy="2155.34" r="4.9" fill="#000"/>
<circle cx="487.03" cy="2146.01" r="4.9" fill="#000"/>
<circle cx="493.79" cy="2164.99" r="4.9" fill="#000"/>
<circle cx="508.26" cy="2155.34" r="4.9" fill="#000"/>
<circle cx="570.81" cy="2155.34" r="4.9" fill="#000"/>
<circle cx="609.1" cy="2146.01" r="4.9" fill="#000"/>
<circle cx="609.74" cy="2164.99" r="4.9" fill="#000"/>
<circle cx="633.87" cy="2155.34" r="4.9" fill="#000"/>
<circle cx="666.03" cy="2155.34" r="4.9" fill="#000"/>
<circle cx="336.16" cy="2238.98" r="4.9" fill="#000"/>
<circle cx="337.45" cy="2257.31" r="4.9" fill="#000"/>
<circle cx="348.71" cy="2248.31" r="4.9" fill="#000"/>
<circle cx="370.9" cy="2248.31" r="4.9" fill="#000"/>
<circle cx="387.63" cy="2248.31" r="4.9" fill="#000"/>
<circle cx="398.89" cy="2248.31" r="4.9" fill="#000"/>
<circle cx="410.47" cy="2248.31" r="4.9" fill="#000"/>
<circle cx="432.99" cy="2238.98" r="4.9" fill="#000"/>
<circle cx="427.52" cy="2257.31" r="4.9" fill="#000"/>
<circle cx="440.71" cy="2257.31" r="4.9" fill="#000"/>
</g>
<text x="135.31" y="1892.5" font-size="28.5" textLength="89.49" lengthAdjust="spacingAndGlyphs">Control</text>
<text x="140.57" y="1983.7" font-size="28.8" textLength="79.05" lengthAdjust="spacingAndGlyphs">17αE2</text>
<text x="135.31" y="2144.4" font-size="28.5" textLength="89.49" lengthAdjust="spacingAndGlyphs">Control</text>
<text x="140.57" y="2234.5" font-size="28.8" textLength="79.05" lengthAdjust="spacingAndGlyphs">17αE2</text>
<text x="6.1" y="1974.5" font-size="28.2" font-style="italic" textLength="96.49" lengthAdjust="spacingAndGlyphs">APOE3</text>
<text x="6.11" y="2221.6" font-size="28.2" font-style="italic" textLength="96.85" lengthAdjust="spacingAndGlyphs">APOE4</text>
<filter id="bl" x="-20%" y="-20%" width="140%" height="140%"><feGaussianBlur stdDeviation="0.55"/></filter>
<g filter="url(#bl)">
<circle cx="148.72" cy="1922.21" r="11.4" fill="#c0c0c0"/>
<circle cx="216.59" cy="1921.31" r="11.4" fill="#b6b6b6"/>
<circle cx="150" cy="2015.89" r="11.8" fill="#aaaaaa"/>
<circle cx="217.78" cy="2015.41" r="11.8" fill="#a2a2a2"/>
<circle cx="149.58" cy="2177.86" r="11.6" fill="#b0b0b0"/>
<circle cx="218.1" cy="2176.25" r="11.6" fill="#b2b2b2"/>
<circle cx="153.44" cy="2273.08" r="11.4" fill="#d4d4d4"/>
<circle cx="220.68" cy="2271.15" r="11.4" fill="#cdcdcd"/>
</g>
<path d="M683.2,1892.6 H700.2 V1976.9 H683.2" stroke="#000" stroke-width="2.1" fill="none"/>
<text x="702.7" y="1921.7" font-size="23" textLength="37.11" lengthAdjust="spacingAndGlyphs" transform="rotate(90 702.7 1921.7)">n.s.</text>
<path d="M722.1,1892.2 H744.9 V2138.3 H722.1" stroke="#000" stroke-width="2.3" fill="none"/>
<text x="748.7" y="1985.3" font-size="23" textLength="56.56" lengthAdjust="spacingAndGlyphs" transform="rotate(90 748.7 1985.3)">0.003</text>
<path d="M768.4,1891.9 H791.3 V2219.5 H768.4" stroke="#000" stroke-width="2.8" fill="none"/>
<text x="798.8" y="2032.81" font-size="23" textLength="37" lengthAdjust="spacingAndGlyphs" transform="rotate(90 798.8 2032.81)">n.s.</text>
<path d="M683.2,2138.1 H700.3 V2222.3 H683.2" stroke="#000" stroke-width="2.1" fill="none"/>
<text x="703.9" y="2146" font-size="23" textLength="69" lengthAdjust="spacingAndGlyphs" transform="rotate(90 703.9 2146)">0.0009</text>
<text x="1061.63" y="1671.8" font-size="39" font-weight="bold" textLength="23.95" lengthAdjust="spacingAndGlyphs">g</text>
<g stroke="#000" stroke-width="2.4" fill="none">
<path d="M1174.7,1825.8 V2308"/>
<path d="M1174.7,1843.6 H1637.34"/>
<path d="M1290.36,1825.8 V1844.9"/>
<path d="M1406.02,1825.8 V1844.9"/>
<path d="M1521.68,1825.8 V1844.9"/>
<path d="M1637.34,1825.8 V1844.9"/>
</g>
<text x="1161.76" y="1817" font-size="27.8" textLength="15.81" lengthAdjust="spacingAndGlyphs">0</text>
<text x="1270.52" y="1817" font-size="27.8" textLength="32.89" lengthAdjust="spacingAndGlyphs">50</text>
<text x="1387.4" y="1817" font-size="27.8" textLength="46.68" lengthAdjust="spacingAndGlyphs">100</text>
<text x="1503.03" y="1817" font-size="27.8" textLength="46.14" lengthAdjust="spacingAndGlyphs">150</text>
<text x="1619.67" y="1817" font-size="27.8" textLength="47.63" lengthAdjust="spacingAndGlyphs">200</text>
<text x="1250.55" y="1759" font-size="28.2" textLength="324.24" lengthAdjust="spacingAndGlyphs">Aβ40 % difference (RFU)</text>
<rect x="1174.7" y="1875.5" width="230.4" height="60.5" fill="#0000c0" stroke="#000" stroke-width="2.5"/>
<rect x="1174.7" y="1968.8" width="212.7" height="60.4" fill="#c9dff8" stroke="#000" stroke-width="2.5"/>
<rect x="1174.7" y="2123.2" width="209.5" height="60.5" fill="#a00000" stroke="#000" stroke-width="2.5"/>
<rect x="1174.7" y="2215.8" width="110.4" height="60.5" fill="#dab2b2" stroke="#000" stroke-width="2.5"/>
<path d="M1385.5,1905.75 H1425.7 M1385.5,1890.25 V1921.25 M1425.7,1890.25 V1921.25" stroke="#000" stroke-width="2.3" fill="none"/>
<path d="M1363.3,1999 H1412.8 M1363.3,1983.5 V2014.5 M1412.8,1983.5 V2014.5" stroke="#000" stroke-width="2.3" fill="none"/>
<path d="M1356.9,2153.45 H1411.5 M1356.9,2137.95 V2168.95 M1411.5,2137.95 V2168.95" stroke="#000" stroke-width="2.3" fill="none"/>
<path d="M1267.4,2246.05 H1303.5 M1267.4,2230.55 V2261.55 M1303.5,2230.55 V2261.55" stroke="#000" stroke-width="2.3" fill="none"/>
<g fill="#000">
<circle cx="1297.01" cy="1905.71" r="4.9" fill="#000"/>
<circle cx="1306.99" cy="1905.71" r="4.9" fill="#000"/>
<circle cx="1377.44" cy="1905.71" r="4.9" fill="#000"/>
<circle cx="1429.87" cy="1879.66" r="4.9" fill="#000"/>
<circle cx="1420.86" cy="1896.7" r="4.9" fill="#000"/>
<circle cx="1413.14" cy="1914.4" r="4.9" fill="#000"/>
<circle cx="1423.44" cy="1914.4" r="4.9" fill="#000"/>
<circle cx="1429.87" cy="1932.09" r="4.9" fill="#000"/>
<circle cx="1465.08" cy="1905.71" r="4.9" fill="#000"/>
<circle cx="1490.17" cy="1905.71" r="4.9" fill="#000"/>
<circle cx="1254.55" cy="1998.04" r="4.9" fill="#000"/>
<circle cx="1311.81" cy="1998.04" r="4.9" fill="#000"/>
<circle cx="1333.37" cy="1998.04" r="4.9" fill="#000"/>
<circle cx="1346.55" cy="1998.04" r="4.9" fill="#000"/>
<circle cx="1377.76" cy="1998.04" r="4.9" fill="#000"/>
<circle cx="1415.72" cy="1989.03" r="4.9" fill="#000"/>
<circle cx="1415.72" cy="2007.36" r="4.9" fill="#000"/>
<circle cx="1455.61" cy="1989.03" r="4.9" fill="#000"/>
<circle cx="1455.61" cy="2007.36" r="4.9" fill="#000"/>
<circle cx="1510.11" cy="1998.04" r="4.9" fill="#000"/>
<circle cx="1281.9" cy="2144.08" r="4.9" fill="#000"/>
<circle cx="1303.13" cy="2144.08" r="4.9" fill="#000"/>
<circle cx="1281.9" cy="2162.74" r="4.9" fill="#000"/>
<circle cx="1303.13" cy="2162.74" r="4.9" fill="#000"/>
<circle cx="1382.26" cy="2153.73" r="4.9" fill="#000"/>
<circle cx="1424.08" cy="2144.08" r="4.9" fill="#000"/>
<circle cx="1424.08" cy="2162.74" r="4.9" fill="#000"/>
<circle cx="1444.35" cy="2153.73" r="4.9" fill="#000"/>
<circle cx="1492.42" cy="2153.73" r="4.9" fill="#000"/>
<circle cx="1506.25" cy="2153.73" r="4.9" fill="#000"/>
<circle cx="1211.13" cy="2246.05" r="4.9" fill="#000"/>
<circle cx="1251.34" cy="2236.73" r="4.9" fill="#000"/>
<circle cx="1263.56" cy="2236.73" r="4.9" fill="#000"/>
<circle cx="1282.54" cy="2236.73" r="4.9" fill="#000"/>
<circle cx="1243.29" cy="2255.38" r="4.9" fill="#000"/>
<circle cx="1260.99" cy="2255.38" r="4.9" fill="#000"/>
<circle cx="1277.07" cy="2255.38" r="4.9" fill="#000"/>
<circle cx="1303.45" cy="2246.05" r="4.9" fill="#000"/>
<circle cx="1365.86" cy="2246.05" r="4.9" fill="#000"/>
<circle cx="1396.09" cy="2246.05" r="4.9" fill="#000"/>
</g>
<text x="1059.2" y="1891.9" font-size="28.5" textLength="90.12" lengthAdjust="spacingAndGlyphs">Control</text>
<text x="1071.67" y="1984" font-size="28.8" textLength="79.05" lengthAdjust="spacingAndGlyphs">17αE2</text>
<text x="1064.31" y="2144.1" font-size="28.5" textLength="89.91" lengthAdjust="spacingAndGlyphs">Control</text>
<text x="1070.57" y="2235" font-size="28.8" textLength="79.05" lengthAdjust="spacingAndGlyphs">17αE2</text>
<text x="932.57" y="1974.6" font-size="28.2" font-style="italic" textLength="93.91" lengthAdjust="spacingAndGlyphs">APOE3</text>
<text x="932.57" y="2222.3" font-size="28.2" font-style="italic" textLength="94.26" lengthAdjust="spacingAndGlyphs">APOE4</text>
<g filter="url(#bl)">
<rect x="1053.6" y="1904.3" width="110.2" height="42" fill="#ececec"/>
<ellipse cx="1074" cy="1925.2" rx="14.4" ry="15.8" fill="#c6c6c6" stroke="#111" stroke-width="2.9"/>
<ellipse cx="1146.2" cy="1923.7" rx="14.1" ry="15.9" fill="#cecece" stroke="#555" stroke-width="1.6"/>
<rect x="1054" y="1993.7" width="113" height="41.3" fill="#ececec"/>
<ellipse cx="1074" cy="2016.3" rx="13.6" ry="16.1" fill="#a6a6a6" stroke="#b0b0b0" stroke-width="1.6"/>
<ellipse cx="1146.6" cy="2016.3" rx="13.6" ry="16.1" fill="#a2a2a2" stroke="#1c1c1c" stroke-width="2.3"/>
<rect x="1053.5" y="2154.7" width="111" height="44.3" fill="#ececec"/>
<ellipse cx="1073.3" cy="2176.2" rx="14.2" ry="15.6" fill="#bbbbbb" stroke="#111" stroke-width="3"/>
<ellipse cx="1146.2" cy="2175.8" rx="14" ry="15.8" fill="#e0e0e0" stroke="#8c8c8c" stroke-width="1.6"/>
<rect x="1055" y="2247" width="108.5" height="40.2" fill="#f1f1f1"/>
<ellipse cx="1075" cy="2266.7" rx="13.5" ry="15.5" fill="#e5e5e5" stroke="#e1e1e1" stroke-width="1.2"/>
<ellipse cx="1146.8" cy="2265.7" rx="13.5" ry="15.5" fill="#d8d8d8" stroke="#d2d2d2" stroke-width="1.2"/>
</g>
<path d="M1605.3,1908.7 H1622.6 V1993.2 H1605.3" stroke="#000" stroke-width="2.1" fill="none"/>
<text x="1624.9" y="1932.7" font-size="23" textLength="37.11" lengthAdjust="spacingAndGlyphs" transform="rotate(90 1624.9 1932.7)">n.s.</text>
<path d="M1644.2,1908.2 H1667.1 V2154.5 H1644.2" stroke="#000" stroke-width="2.3" fill="none"/>
<text x="1671.7" y="2010.91" font-size="23" textLength="37" lengthAdjust="spacingAndGlyphs" transform="rotate(90 1671.7 2010.91)">n.s.</text>
<path d="M1690.5,1907.4 H1713.4 V2235.8 H1690.5" stroke="#000" stroke-width="2.8" fill="none"/>
<text x="1723.1" y="2037.12" font-size="23" textLength="55.19" lengthAdjust="spacingAndGlyphs" transform="rotate(90 1723.1 2037.12)">0.004</text>
<path d="M1605.2,2153.8 H1622.7 V2238.2 H1605.2" stroke="#000" stroke-width="2.1" fill="none"/>
<text x="1626.7" y="2173" font-size="23" textLength="43.65" lengthAdjust="spacingAndGlyphs" transform="rotate(90 1626.7 2173)">0.02</text>
</svg>
</body></html>
